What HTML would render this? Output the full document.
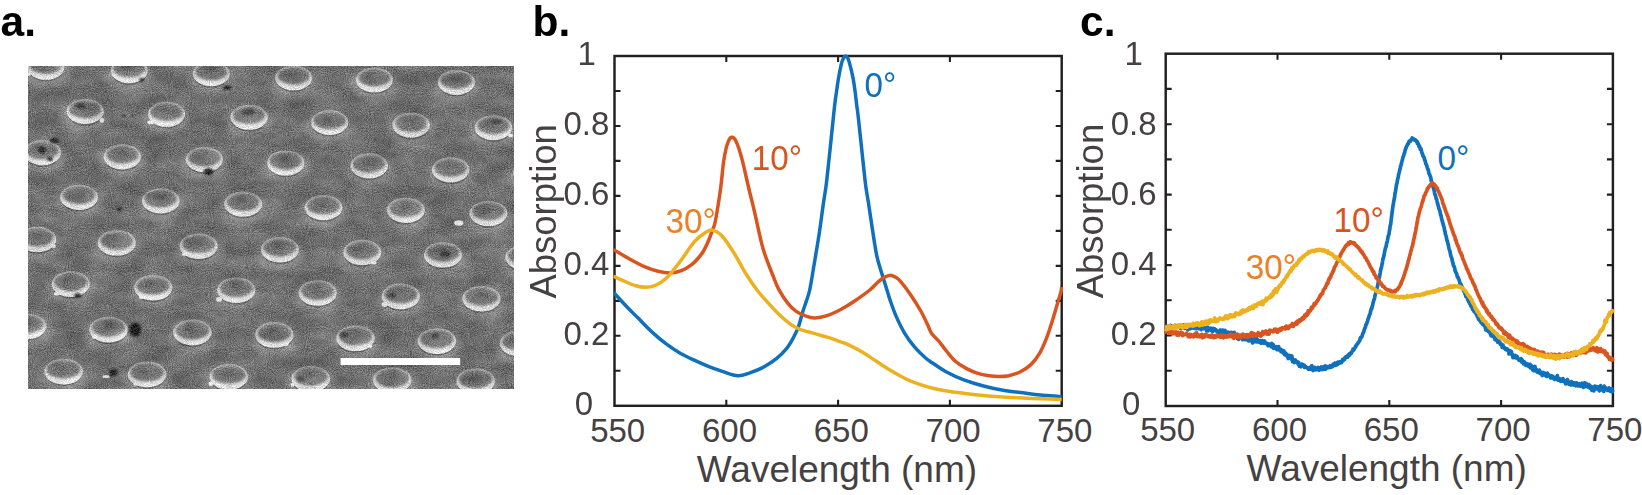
<!DOCTYPE html>
<html lang="en"><head><meta charset="utf-8"><title>Figure</title>
<style>html,body{margin:0;padding:0;background:#fff}body{width:1642px;height:495px;overflow:hidden}</style>
</head><body>
<svg width="1642" height="495" viewBox="0 0 1642 495" font-family="'Liberation Sans', Arial, Helvetica, sans-serif" style="display:block">
<rect width="1642" height="495" fill="#fff"/>
<defs><clipPath id="semclip"><rect x="28" y="66.5" width="486" height="322.5"/></clipPath><filter id="grain" x="0" y="0" width="100%" height="100%" color-interpolation-filters="sRGB"><feTurbulence type="fractalNoise" baseFrequency="0.95" numOctaves="2" seed="11" result="t"/><feColorMatrix in="t" type="matrix" values="1 0 0 0 0 1 0 0 0 0 1 0 0 0 0 0 0 0 0 1" result="g"/><feTurbulence type="fractalNoise" baseFrequency="0.035 0.07" numOctaves="3" seed="4" result="t2"/><feColorMatrix in="t2" type="matrix" values="1 0 0 0 0 1 0 0 0 0 1 0 0 0 0 0 0 0 0 1" result="g2"/><feComposite in="SourceGraphic" in2="g" operator="arithmetic" k1="0" k2="1" k3="0.46" k4="-0.23" result="s1"/><feComposite in="s1" in2="g2" operator="arithmetic" k1="0" k2="1" k3="0.19" k4="-0.095"/></filter><filter id="b0" x="-20%" y="-20%" width="140%" height="140%"><feGaussianBlur stdDeviation="0.55"/></filter><filter id="b1" x="-20%" y="-20%" width="140%" height="140%"><feGaussianBlur stdDeviation="1.0"/></filter><filter id="b8" x="-20%" y="-20%" width="140%" height="140%"><feGaussianBlur stdDeviation="0.8"/></filter><filter id="b3" x="-40%" y="-40%" width="180%" height="180%"><feGaussianBlur stdDeviation="3.2"/></filter><linearGradient id="rim" x1="0" y1="0" x2="0" y2="1"><stop offset="0" stop-color="#a8a8a8"/><stop offset="0.45" stop-color="#cacaca"/><stop offset="1" stop-color="#e6e6e6"/></linearGradient><radialGradient id="top" cx="0.45" cy="0.42" r="0.62"><stop offset="0" stop-color="#696969"/><stop offset="0.75" stop-color="#7a7a7a"/><stop offset="1" stop-color="#8e8e8e"/></radialGradient></defs>
<g clip-path="url(#semclip)"><g filter="url(#grain)">
<rect x="26" y="64.5" width="490" height="326.5" fill="#6f6f6f"/>
<ellipse cx="47.8" cy="53.0" rx="20.5" ry="6" fill="#5c5c5c" opacity="0.16" filter="url(#b3)"/>
<ellipse cx="45.8" cy="72.4" rx="23.5" ry="15.4" fill="#a0a0a0" opacity="0.5" filter="url(#b3)"/>
<ellipse cx="131.2" cy="56.4" rx="20.5" ry="6" fill="#5c5c5c" opacity="0.16" filter="url(#b3)"/>
<ellipse cx="129.2" cy="75.8" rx="23.5" ry="15.4" fill="#a0a0a0" opacity="0.5" filter="url(#b3)"/>
<ellipse cx="213.3" cy="59.4" rx="20.5" ry="6" fill="#5c5c5c" opacity="0.16" filter="url(#b3)"/>
<ellipse cx="211.3" cy="78.8" rx="23.5" ry="15.4" fill="#a0a0a0" opacity="0.5" filter="url(#b3)"/>
<ellipse cx="295.7" cy="63.6" rx="20.5" ry="6" fill="#5c5c5c" opacity="0.16" filter="url(#b3)"/>
<ellipse cx="293.7" cy="83.0" rx="23.5" ry="15.4" fill="#a0a0a0" opacity="0.5" filter="url(#b3)"/>
<ellipse cx="376.4" cy="65.6" rx="20.5" ry="6" fill="#5c5c5c" opacity="0.16" filter="url(#b3)"/>
<ellipse cx="374.4" cy="85.0" rx="23.5" ry="15.4" fill="#a0a0a0" opacity="0.5" filter="url(#b3)"/>
<ellipse cx="458.4" cy="68.1" rx="20.5" ry="6" fill="#5c5c5c" opacity="0.16" filter="url(#b3)"/>
<ellipse cx="456.4" cy="87.5" rx="23.5" ry="15.4" fill="#a0a0a0" opacity="0.5" filter="url(#b3)"/>
<ellipse cx="87.2" cy="97.0" rx="20.6" ry="6" fill="#5c5c5c" opacity="0.16" filter="url(#b3)"/>
<ellipse cx="85.2" cy="116.5" rx="23.6" ry="15.5" fill="#a0a0a0" opacity="0.5" filter="url(#b3)"/>
<ellipse cx="168.6" cy="99.8" rx="20.6" ry="6" fill="#5c5c5c" opacity="0.16" filter="url(#b3)"/>
<ellipse cx="166.6" cy="119.3" rx="23.6" ry="15.5" fill="#a0a0a0" opacity="0.5" filter="url(#b3)"/>
<ellipse cx="251.1" cy="102.8" rx="20.6" ry="6" fill="#5c5c5c" opacity="0.16" filter="url(#b3)"/>
<ellipse cx="249.1" cy="122.3" rx="23.6" ry="15.5" fill="#a0a0a0" opacity="0.5" filter="url(#b3)"/>
<ellipse cx="331.7" cy="108.0" rx="20.6" ry="6" fill="#5c5c5c" opacity="0.16" filter="url(#b3)"/>
<ellipse cx="329.7" cy="127.5" rx="23.6" ry="15.5" fill="#a0a0a0" opacity="0.5" filter="url(#b3)"/>
<ellipse cx="413.1" cy="110.7" rx="20.6" ry="6" fill="#5c5c5c" opacity="0.16" filter="url(#b3)"/>
<ellipse cx="411.1" cy="130.2" rx="23.6" ry="15.5" fill="#a0a0a0" opacity="0.5" filter="url(#b3)"/>
<ellipse cx="495.5" cy="113.2" rx="20.6" ry="6" fill="#5c5c5c" opacity="0.16" filter="url(#b3)"/>
<ellipse cx="493.5" cy="132.7" rx="23.6" ry="15.5" fill="#a0a0a0" opacity="0.5" filter="url(#b3)"/>
<ellipse cx="44.3" cy="138.1" rx="20.7" ry="6" fill="#5c5c5c" opacity="0.16" filter="url(#b3)"/>
<ellipse cx="42.3" cy="157.7" rx="23.7" ry="15.6" fill="#a0a0a0" opacity="0.5" filter="url(#b3)"/>
<ellipse cx="124.3" cy="142.2" rx="20.7" ry="6" fill="#5c5c5c" opacity="0.16" filter="url(#b3)"/>
<ellipse cx="122.3" cy="161.8" rx="23.7" ry="15.6" fill="#a0a0a0" opacity="0.5" filter="url(#b3)"/>
<ellipse cx="206.4" cy="145.0" rx="20.7" ry="6" fill="#5c5c5c" opacity="0.16" filter="url(#b3)"/>
<ellipse cx="204.4" cy="164.6" rx="23.7" ry="15.6" fill="#a0a0a0" opacity="0.5" filter="url(#b3)"/>
<ellipse cx="287.8" cy="148.4" rx="20.7" ry="6" fill="#5c5c5c" opacity="0.16" filter="url(#b3)"/>
<ellipse cx="285.8" cy="168.0" rx="23.7" ry="15.6" fill="#a0a0a0" opacity="0.5" filter="url(#b3)"/>
<ellipse cx="371.2" cy="151.2" rx="20.7" ry="6" fill="#5c5c5c" opacity="0.16" filter="url(#b3)"/>
<ellipse cx="369.2" cy="170.8" rx="23.7" ry="15.6" fill="#a0a0a0" opacity="0.5" filter="url(#b3)"/>
<ellipse cx="452.6" cy="155.3" rx="20.7" ry="6" fill="#5c5c5c" opacity="0.16" filter="url(#b3)"/>
<ellipse cx="450.6" cy="174.9" rx="23.7" ry="15.6" fill="#a0a0a0" opacity="0.5" filter="url(#b3)"/>
<ellipse cx="534.0" cy="157.9" rx="20.7" ry="6" fill="#5c5c5c" opacity="0.16" filter="url(#b3)"/>
<ellipse cx="532.0" cy="177.5" rx="23.7" ry="15.6" fill="#a0a0a0" opacity="0.5" filter="url(#b3)"/>
<ellipse cx="81.1" cy="182.8" rx="20.9" ry="6" fill="#5c5c5c" opacity="0.16" filter="url(#b3)"/>
<ellipse cx="79.1" cy="202.4" rx="23.9" ry="15.6" fill="#a0a0a0" opacity="0.5" filter="url(#b3)"/>
<ellipse cx="162.8" cy="186.2" rx="20.9" ry="6" fill="#5c5c5c" opacity="0.16" filter="url(#b3)"/>
<ellipse cx="160.8" cy="205.8" rx="23.9" ry="15.6" fill="#a0a0a0" opacity="0.5" filter="url(#b3)"/>
<ellipse cx="245.2" cy="189.6" rx="20.9" ry="6" fill="#5c5c5c" opacity="0.16" filter="url(#b3)"/>
<ellipse cx="243.2" cy="209.2" rx="23.9" ry="15.6" fill="#a0a0a0" opacity="0.5" filter="url(#b3)"/>
<ellipse cx="325.5" cy="193.1" rx="20.9" ry="6" fill="#5c5c5c" opacity="0.16" filter="url(#b3)"/>
<ellipse cx="323.5" cy="212.7" rx="23.9" ry="15.6" fill="#a0a0a0" opacity="0.5" filter="url(#b3)"/>
<ellipse cx="407.9" cy="195.8" rx="20.9" ry="6" fill="#5c5c5c" opacity="0.16" filter="url(#b3)"/>
<ellipse cx="405.9" cy="215.4" rx="23.9" ry="15.6" fill="#a0a0a0" opacity="0.5" filter="url(#b3)"/>
<ellipse cx="490.4" cy="198.9" rx="20.9" ry="6" fill="#5c5c5c" opacity="0.16" filter="url(#b3)"/>
<ellipse cx="488.4" cy="218.5" rx="23.9" ry="15.6" fill="#a0a0a0" opacity="0.5" filter="url(#b3)"/>
<ellipse cx="39.2" cy="224.7" rx="21.0" ry="6" fill="#5c5c5c" opacity="0.16" filter="url(#b3)"/>
<ellipse cx="37.2" cy="244.4" rx="24.0" ry="15.7" fill="#a0a0a0" opacity="0.5" filter="url(#b3)"/>
<ellipse cx="118.8" cy="228.2" rx="21.0" ry="6" fill="#5c5c5c" opacity="0.16" filter="url(#b3)"/>
<ellipse cx="116.8" cy="247.9" rx="24.0" ry="15.7" fill="#a0a0a0" opacity="0.5" filter="url(#b3)"/>
<ellipse cx="200.6" cy="231.6" rx="21.0" ry="6" fill="#5c5c5c" opacity="0.16" filter="url(#b3)"/>
<ellipse cx="198.6" cy="251.3" rx="24.0" ry="15.7" fill="#a0a0a0" opacity="0.5" filter="url(#b3)"/>
<ellipse cx="281.9" cy="235.0" rx="21.0" ry="6" fill="#5c5c5c" opacity="0.16" filter="url(#b3)"/>
<ellipse cx="279.9" cy="254.7" rx="24.0" ry="15.7" fill="#a0a0a0" opacity="0.5" filter="url(#b3)"/>
<ellipse cx="364.3" cy="237.8" rx="21.0" ry="6" fill="#5c5c5c" opacity="0.16" filter="url(#b3)"/>
<ellipse cx="362.3" cy="257.5" rx="24.0" ry="15.7" fill="#a0a0a0" opacity="0.5" filter="url(#b3)"/>
<ellipse cx="445.0" cy="240.2" rx="21.0" ry="6" fill="#5c5c5c" opacity="0.16" filter="url(#b3)"/>
<ellipse cx="443.0" cy="259.9" rx="24.0" ry="15.7" fill="#a0a0a0" opacity="0.5" filter="url(#b3)"/>
<ellipse cx="526.5" cy="242.9" rx="21.0" ry="6" fill="#5c5c5c" opacity="0.16" filter="url(#b3)"/>
<ellipse cx="524.5" cy="262.6" rx="24.0" ry="15.7" fill="#a0a0a0" opacity="0.5" filter="url(#b3)"/>
<ellipse cx="72.8" cy="269.3" rx="21.1" ry="6" fill="#5c5c5c" opacity="0.16" filter="url(#b3)"/>
<ellipse cx="70.8" cy="289.1" rx="24.1" ry="15.8" fill="#a0a0a0" opacity="0.5" filter="url(#b3)"/>
<ellipse cx="155.2" cy="273.0" rx="21.1" ry="6" fill="#5c5c5c" opacity="0.16" filter="url(#b3)"/>
<ellipse cx="153.2" cy="292.8" rx="24.1" ry="15.8" fill="#a0a0a0" opacity="0.5" filter="url(#b3)"/>
<ellipse cx="238.3" cy="275.4" rx="21.1" ry="6" fill="#5c5c5c" opacity="0.16" filter="url(#b3)"/>
<ellipse cx="236.3" cy="295.2" rx="24.1" ry="15.8" fill="#a0a0a0" opacity="0.5" filter="url(#b3)"/>
<ellipse cx="319.7" cy="278.2" rx="21.1" ry="6" fill="#5c5c5c" opacity="0.16" filter="url(#b3)"/>
<ellipse cx="317.7" cy="298.0" rx="24.1" ry="15.8" fill="#a0a0a0" opacity="0.5" filter="url(#b3)"/>
<ellipse cx="402.8" cy="281.6" rx="21.1" ry="6" fill="#5c5c5c" opacity="0.16" filter="url(#b3)"/>
<ellipse cx="400.8" cy="301.4" rx="24.1" ry="15.8" fill="#a0a0a0" opacity="0.5" filter="url(#b3)"/>
<ellipse cx="483.5" cy="284.0" rx="21.1" ry="6" fill="#5c5c5c" opacity="0.16" filter="url(#b3)"/>
<ellipse cx="481.5" cy="303.8" rx="24.1" ry="15.8" fill="#a0a0a0" opacity="0.5" filter="url(#b3)"/>
<ellipse cx="29.0" cy="311.4" rx="21.2" ry="6" fill="#5c5c5c" opacity="0.16" filter="url(#b3)"/>
<ellipse cx="27.0" cy="331.3" rx="24.2" ry="15.9" fill="#a0a0a0" opacity="0.5" filter="url(#b3)"/>
<ellipse cx="110.6" cy="314.8" rx="21.2" ry="6" fill="#5c5c5c" opacity="0.16" filter="url(#b3)"/>
<ellipse cx="108.6" cy="334.7" rx="24.2" ry="15.9" fill="#a0a0a0" opacity="0.5" filter="url(#b3)"/>
<ellipse cx="194.4" cy="317.6" rx="21.2" ry="6" fill="#5c5c5c" opacity="0.16" filter="url(#b3)"/>
<ellipse cx="192.4" cy="337.5" rx="24.2" ry="15.9" fill="#a0a0a0" opacity="0.5" filter="url(#b3)"/>
<ellipse cx="276.4" cy="320.0" rx="21.2" ry="6" fill="#5c5c5c" opacity="0.16" filter="url(#b3)"/>
<ellipse cx="274.4" cy="339.9" rx="24.2" ry="15.9" fill="#a0a0a0" opacity="0.5" filter="url(#b3)"/>
<ellipse cx="357.5" cy="323.4" rx="21.2" ry="6" fill="#5c5c5c" opacity="0.16" filter="url(#b3)"/>
<ellipse cx="355.5" cy="343.3" rx="24.2" ry="15.9" fill="#a0a0a0" opacity="0.5" filter="url(#b3)"/>
<ellipse cx="438.9" cy="326.2" rx="21.2" ry="6" fill="#5c5c5c" opacity="0.16" filter="url(#b3)"/>
<ellipse cx="436.9" cy="346.1" rx="24.2" ry="15.9" fill="#a0a0a0" opacity="0.5" filter="url(#b3)"/>
<ellipse cx="521.0" cy="328.6" rx="21.2" ry="6" fill="#5c5c5c" opacity="0.16" filter="url(#b3)"/>
<ellipse cx="519.0" cy="348.5" rx="24.2" ry="15.9" fill="#a0a0a0" opacity="0.5" filter="url(#b3)"/>
<ellipse cx="65.6" cy="356.7" rx="21.3" ry="6" fill="#5c5c5c" opacity="0.16" filter="url(#b3)"/>
<ellipse cx="63.6" cy="376.6" rx="24.3" ry="15.9" fill="#a0a0a0" opacity="0.5" filter="url(#b3)"/>
<ellipse cx="149.1" cy="359.5" rx="21.3" ry="6" fill="#5c5c5c" opacity="0.16" filter="url(#b3)"/>
<ellipse cx="147.1" cy="379.4" rx="24.3" ry="15.9" fill="#a0a0a0" opacity="0.5" filter="url(#b3)"/>
<ellipse cx="230.8" cy="361.9" rx="21.3" ry="6" fill="#5c5c5c" opacity="0.16" filter="url(#b3)"/>
<ellipse cx="228.8" cy="381.8" rx="24.3" ry="15.9" fill="#a0a0a0" opacity="0.5" filter="url(#b3)"/>
<ellipse cx="312.8" cy="363.9" rx="21.3" ry="6" fill="#5c5c5c" opacity="0.16" filter="url(#b3)"/>
<ellipse cx="310.8" cy="383.8" rx="24.3" ry="15.9" fill="#a0a0a0" opacity="0.5" filter="url(#b3)"/>
<ellipse cx="394.2" cy="365.3" rx="21.3" ry="6" fill="#5c5c5c" opacity="0.16" filter="url(#b3)"/>
<ellipse cx="392.2" cy="385.2" rx="24.3" ry="15.9" fill="#a0a0a0" opacity="0.5" filter="url(#b3)"/>
<ellipse cx="477.7" cy="366.4" rx="21.3" ry="6" fill="#5c5c5c" opacity="0.16" filter="url(#b3)"/>
<ellipse cx="475.7" cy="386.3" rx="24.3" ry="15.9" fill="#a0a0a0" opacity="0.5" filter="url(#b3)"/>
<ellipse cx="45.8" cy="69.0" rx="18.0" ry="12.4" fill="#4a4a4a" opacity="0.55" filter="url(#b0)"/>
<ellipse cx="45.8" cy="67.4" rx="18.5" ry="12.4" fill="url(#rim)" filter="url(#b0)"/>
<ellipse cx="45.8" cy="65.3" rx="15.9" ry="8.8" fill="url(#top)" filter="url(#b8)"/>
<ellipse cx="42.4" cy="62.0" rx="6.6" ry="2.1" fill="#505050" opacity="0.34" filter="url(#b1)"/>
<ellipse cx="28.9" cy="73.9" rx="2.1" ry="1.9" fill="#e4e4e4" filter="url(#b0)"/>
<ellipse cx="129.2" cy="72.4" rx="18.0" ry="12.4" fill="#4a4a4a" opacity="0.55" filter="url(#b0)"/>
<ellipse cx="129.2" cy="70.8" rx="18.5" ry="12.4" fill="url(#rim)" filter="url(#b0)"/>
<ellipse cx="129.2" cy="68.7" rx="15.9" ry="8.8" fill="url(#top)" filter="url(#b8)"/>
<ellipse cx="125.1" cy="67.0" rx="4.2" ry="3.1" fill="#505050" opacity="0.48" filter="url(#b1)"/>
<ellipse cx="211.3" cy="75.4" rx="18.0" ry="12.4" fill="#4a4a4a" opacity="0.55" filter="url(#b0)"/>
<ellipse cx="211.3" cy="73.8" rx="18.5" ry="12.4" fill="url(#rim)" filter="url(#b0)"/>
<ellipse cx="211.3" cy="71.7" rx="15.9" ry="8.8" fill="url(#top)" filter="url(#b8)"/>
<ellipse cx="210.0" cy="68.0" rx="6.3" ry="2.1" fill="#505050" opacity="0.23" filter="url(#b1)"/>
<ellipse cx="293.7" cy="79.6" rx="18.0" ry="12.4" fill="#4a4a4a" opacity="0.55" filter="url(#b0)"/>
<ellipse cx="293.7" cy="78.0" rx="18.5" ry="12.4" fill="url(#rim)" filter="url(#b0)"/>
<ellipse cx="293.7" cy="75.9" rx="15.9" ry="8.8" fill="url(#top)" filter="url(#b8)"/>
<ellipse cx="288.8" cy="73.7" rx="6.2" ry="3.1" fill="#505050" opacity="0.35" filter="url(#b1)"/>
<ellipse cx="374.4" cy="81.6" rx="18.0" ry="12.4" fill="#4a4a4a" opacity="0.55" filter="url(#b0)"/>
<ellipse cx="374.4" cy="80.0" rx="18.5" ry="12.4" fill="url(#rim)" filter="url(#b0)"/>
<ellipse cx="374.4" cy="77.9" rx="15.9" ry="8.8" fill="url(#top)" filter="url(#b8)"/>
<ellipse cx="369.2" cy="76.3" rx="4.8" ry="2.2" fill="#505050" opacity="0.40" filter="url(#b1)"/>
<ellipse cx="456.4" cy="84.1" rx="18.0" ry="12.4" fill="#4a4a4a" opacity="0.55" filter="url(#b0)"/>
<ellipse cx="456.4" cy="82.5" rx="18.5" ry="12.4" fill="url(#rim)" filter="url(#b0)"/>
<ellipse cx="456.4" cy="80.4" rx="15.9" ry="8.8" fill="url(#top)" filter="url(#b8)"/>
<ellipse cx="455.4" cy="78.5" rx="6.1" ry="3.6" fill="#505050" opacity="0.31" filter="url(#b1)"/>
<ellipse cx="85.2" cy="113.1" rx="18.1" ry="12.5" fill="#4a4a4a" opacity="0.55" filter="url(#b0)"/>
<ellipse cx="85.2" cy="111.5" rx="18.6" ry="12.5" fill="url(#rim)" filter="url(#b0)"/>
<ellipse cx="85.2" cy="109.4" rx="16.0" ry="8.9" fill="url(#top)" filter="url(#b8)"/>
<ellipse cx="82.1" cy="106.5" rx="4.7" ry="3.6" fill="#505050" opacity="0.18" filter="url(#b1)"/>
<ellipse cx="102.0" cy="120.3" rx="2.4" ry="2.5" fill="#e4e4e4" filter="url(#b0)"/>
<ellipse cx="166.6" cy="115.9" rx="18.1" ry="12.5" fill="#4a4a4a" opacity="0.55" filter="url(#b0)"/>
<ellipse cx="166.6" cy="114.3" rx="18.6" ry="12.5" fill="url(#rim)" filter="url(#b0)"/>
<ellipse cx="166.6" cy="112.2" rx="16.0" ry="8.9" fill="url(#top)" filter="url(#b8)"/>
<ellipse cx="161.5" cy="110.0" rx="7.0" ry="2.3" fill="#505050" opacity="0.32" filter="url(#b1)"/>
<ellipse cx="150.7" cy="122.4" rx="3.3" ry="1.8" fill="#e4e4e4" filter="url(#b0)"/>
<ellipse cx="249.1" cy="118.9" rx="18.1" ry="12.5" fill="#4a4a4a" opacity="0.55" filter="url(#b0)"/>
<ellipse cx="249.1" cy="117.3" rx="18.6" ry="12.5" fill="url(#rim)" filter="url(#b0)"/>
<ellipse cx="249.1" cy="115.2" rx="16.0" ry="8.9" fill="url(#top)" filter="url(#b8)"/>
<ellipse cx="248.7" cy="113.7" rx="6.3" ry="2.9" fill="#505050" opacity="0.44" filter="url(#b1)"/>
<ellipse cx="329.7" cy="124.1" rx="18.1" ry="12.5" fill="#4a4a4a" opacity="0.55" filter="url(#b0)"/>
<ellipse cx="329.7" cy="122.5" rx="18.6" ry="12.5" fill="url(#rim)" filter="url(#b0)"/>
<ellipse cx="329.7" cy="120.4" rx="16.0" ry="8.9" fill="url(#top)" filter="url(#b8)"/>
<ellipse cx="327.5" cy="119.2" rx="4.2" ry="3.4" fill="#505050" opacity="0.38" filter="url(#b1)"/>
<ellipse cx="411.1" cy="126.8" rx="18.1" ry="12.5" fill="#4a4a4a" opacity="0.55" filter="url(#b0)"/>
<ellipse cx="411.1" cy="125.2" rx="18.6" ry="12.5" fill="url(#rim)" filter="url(#b0)"/>
<ellipse cx="411.1" cy="123.1" rx="16.0" ry="8.9" fill="url(#top)" filter="url(#b8)"/>
<ellipse cx="411.7" cy="120.3" rx="5.5" ry="3.3" fill="#505050" opacity="0.16" filter="url(#b1)"/>
<ellipse cx="493.5" cy="129.3" rx="18.1" ry="12.5" fill="#4a4a4a" opacity="0.55" filter="url(#b0)"/>
<ellipse cx="493.5" cy="127.7" rx="18.6" ry="12.5" fill="url(#rim)" filter="url(#b0)"/>
<ellipse cx="493.5" cy="125.6" rx="16.0" ry="8.9" fill="url(#top)" filter="url(#b8)"/>
<ellipse cx="488.8" cy="122.2" rx="4.2" ry="3.5" fill="#505050" opacity="0.20" filter="url(#b1)"/>
<ellipse cx="510.6" cy="135.5" rx="2.2" ry="1.9" fill="#e4e4e4" filter="url(#b0)"/>
<ellipse cx="42.3" cy="154.3" rx="18.2" ry="12.6" fill="#4a4a4a" opacity="0.55" filter="url(#b0)"/>
<ellipse cx="42.3" cy="152.7" rx="18.7" ry="12.6" fill="url(#rim)" filter="url(#b0)"/>
<ellipse cx="42.3" cy="150.6" rx="16.1" ry="9.0" fill="url(#top)" filter="url(#b8)"/>
<ellipse cx="38.5" cy="147.2" rx="5.7" ry="3.1" fill="#505050" opacity="0.40" filter="url(#b1)"/>
<ellipse cx="122.3" cy="158.4" rx="18.2" ry="12.6" fill="#4a4a4a" opacity="0.55" filter="url(#b0)"/>
<ellipse cx="122.3" cy="156.8" rx="18.7" ry="12.6" fill="url(#rim)" filter="url(#b0)"/>
<ellipse cx="122.3" cy="154.7" rx="16.1" ry="9.0" fill="url(#top)" filter="url(#b8)"/>
<ellipse cx="121.8" cy="152.3" rx="4.9" ry="2.2" fill="#505050" opacity="0.20" filter="url(#b1)"/>
<ellipse cx="204.4" cy="161.2" rx="18.2" ry="12.6" fill="#4a4a4a" opacity="0.55" filter="url(#b0)"/>
<ellipse cx="204.4" cy="159.6" rx="18.7" ry="12.6" fill="url(#rim)" filter="url(#b0)"/>
<ellipse cx="204.4" cy="157.5" rx="16.1" ry="9.0" fill="url(#top)" filter="url(#b8)"/>
<ellipse cx="198.5" cy="156.9" rx="4.7" ry="2.6" fill="#505050" opacity="0.20" filter="url(#b1)"/>
<ellipse cx="285.8" cy="164.6" rx="18.2" ry="12.6" fill="#4a4a4a" opacity="0.55" filter="url(#b0)"/>
<ellipse cx="285.8" cy="163.0" rx="18.7" ry="12.6" fill="url(#rim)" filter="url(#b0)"/>
<ellipse cx="285.8" cy="160.9" rx="16.1" ry="9.0" fill="url(#top)" filter="url(#b8)"/>
<ellipse cx="284.7" cy="158.3" rx="4.5" ry="3.7" fill="#505050" opacity="0.48" filter="url(#b1)"/>
<ellipse cx="369.2" cy="167.4" rx="18.2" ry="12.6" fill="#4a4a4a" opacity="0.55" filter="url(#b0)"/>
<ellipse cx="369.2" cy="165.8" rx="18.7" ry="12.6" fill="url(#rim)" filter="url(#b0)"/>
<ellipse cx="369.2" cy="163.7" rx="16.1" ry="9.0" fill="url(#top)" filter="url(#b8)"/>
<ellipse cx="369.1" cy="161.6" rx="7.5" ry="3.9" fill="#505050" opacity="0.39" filter="url(#b1)"/>
<ellipse cx="450.6" cy="171.5" rx="18.2" ry="12.6" fill="#4a4a4a" opacity="0.55" filter="url(#b0)"/>
<ellipse cx="450.6" cy="169.9" rx="18.7" ry="12.6" fill="url(#rim)" filter="url(#b0)"/>
<ellipse cx="450.6" cy="167.8" rx="16.1" ry="9.0" fill="url(#top)" filter="url(#b8)"/>
<ellipse cx="447.8" cy="165.5" rx="5.9" ry="2.8" fill="#505050" opacity="0.22" filter="url(#b1)"/>
<ellipse cx="532.0" cy="174.1" rx="18.2" ry="12.6" fill="#4a4a4a" opacity="0.55" filter="url(#b0)"/>
<ellipse cx="532.0" cy="172.5" rx="18.7" ry="12.6" fill="url(#rim)" filter="url(#b0)"/>
<ellipse cx="532.0" cy="170.4" rx="16.1" ry="9.0" fill="url(#top)" filter="url(#b8)"/>
<ellipse cx="529.5" cy="166.9" rx="6.4" ry="2.2" fill="#505050" opacity="0.35" filter="url(#b1)"/>
<ellipse cx="79.1" cy="199.0" rx="18.4" ry="12.6" fill="#4a4a4a" opacity="0.55" filter="url(#b0)"/>
<ellipse cx="79.1" cy="197.4" rx="18.9" ry="12.6" fill="url(#rim)" filter="url(#b0)"/>
<ellipse cx="79.1" cy="195.3" rx="16.3" ry="9.0" fill="url(#top)" filter="url(#b8)"/>
<ellipse cx="80.7" cy="193.9" rx="4.3" ry="2.4" fill="#505050" opacity="0.28" filter="url(#b1)"/>
<ellipse cx="160.8" cy="202.4" rx="18.4" ry="12.6" fill="#4a4a4a" opacity="0.55" filter="url(#b0)"/>
<ellipse cx="160.8" cy="200.8" rx="18.9" ry="12.6" fill="url(#rim)" filter="url(#b0)"/>
<ellipse cx="160.8" cy="198.7" rx="16.3" ry="9.0" fill="url(#top)" filter="url(#b8)"/>
<ellipse cx="162.4" cy="197.2" rx="5.9" ry="2.2" fill="#505050" opacity="0.32" filter="url(#b1)"/>
<ellipse cx="243.2" cy="205.8" rx="18.4" ry="12.6" fill="#4a4a4a" opacity="0.55" filter="url(#b0)"/>
<ellipse cx="243.2" cy="204.2" rx="18.9" ry="12.6" fill="url(#rim)" filter="url(#b0)"/>
<ellipse cx="243.2" cy="202.1" rx="16.3" ry="9.0" fill="url(#top)" filter="url(#b8)"/>
<ellipse cx="241.0" cy="199.4" rx="4.6" ry="3.5" fill="#505050" opacity="0.41" filter="url(#b1)"/>
<ellipse cx="323.5" cy="209.3" rx="18.4" ry="12.6" fill="#4a4a4a" opacity="0.55" filter="url(#b0)"/>
<ellipse cx="323.5" cy="207.7" rx="18.9" ry="12.6" fill="url(#rim)" filter="url(#b0)"/>
<ellipse cx="323.5" cy="205.6" rx="16.3" ry="9.0" fill="url(#top)" filter="url(#b8)"/>
<ellipse cx="323.0" cy="203.8" rx="4.8" ry="3.9" fill="#505050" opacity="0.28" filter="url(#b1)"/>
<ellipse cx="405.9" cy="212.0" rx="18.4" ry="12.6" fill="#4a4a4a" opacity="0.55" filter="url(#b0)"/>
<ellipse cx="405.9" cy="210.4" rx="18.9" ry="12.6" fill="url(#rim)" filter="url(#b0)"/>
<ellipse cx="405.9" cy="208.3" rx="16.3" ry="9.0" fill="url(#top)" filter="url(#b8)"/>
<ellipse cx="407.2" cy="207.4" rx="5.2" ry="3.3" fill="#505050" opacity="0.18" filter="url(#b1)"/>
<ellipse cx="488.4" cy="215.1" rx="18.4" ry="12.6" fill="#4a4a4a" opacity="0.55" filter="url(#b0)"/>
<ellipse cx="488.4" cy="213.5" rx="18.9" ry="12.6" fill="url(#rim)" filter="url(#b0)"/>
<ellipse cx="488.4" cy="211.4" rx="16.3" ry="9.0" fill="url(#top)" filter="url(#b8)"/>
<ellipse cx="486.5" cy="211.1" rx="5.4" ry="2.4" fill="#505050" opacity="0.34" filter="url(#b1)"/>
<ellipse cx="37.2" cy="241.0" rx="18.5" ry="12.7" fill="#4a4a4a" opacity="0.55" filter="url(#b0)"/>
<ellipse cx="37.2" cy="239.4" rx="19.0" ry="12.7" fill="url(#rim)" filter="url(#b0)"/>
<ellipse cx="37.2" cy="237.3" rx="16.4" ry="9.1" fill="url(#top)" filter="url(#b8)"/>
<ellipse cx="36.3" cy="235.9" rx="7.2" ry="3.5" fill="#505050" opacity="0.22" filter="url(#b1)"/>
<ellipse cx="53.2" cy="246.1" rx="2.8" ry="1.9" fill="#e4e4e4" filter="url(#b0)"/>
<ellipse cx="116.8" cy="244.5" rx="18.5" ry="12.7" fill="#4a4a4a" opacity="0.55" filter="url(#b0)"/>
<ellipse cx="116.8" cy="242.9" rx="19.0" ry="12.7" fill="url(#rim)" filter="url(#b0)"/>
<ellipse cx="116.8" cy="240.8" rx="16.4" ry="9.1" fill="url(#top)" filter="url(#b8)"/>
<ellipse cx="111.0" cy="237.0" rx="5.1" ry="2.5" fill="#505050" opacity="0.39" filter="url(#b1)"/>
<ellipse cx="198.6" cy="247.9" rx="18.5" ry="12.7" fill="#4a4a4a" opacity="0.55" filter="url(#b0)"/>
<ellipse cx="198.6" cy="246.3" rx="19.0" ry="12.7" fill="url(#rim)" filter="url(#b0)"/>
<ellipse cx="198.6" cy="244.2" rx="16.4" ry="9.1" fill="url(#top)" filter="url(#b8)"/>
<ellipse cx="196.2" cy="244.0" rx="8.0" ry="3.9" fill="#505050" opacity="0.28" filter="url(#b1)"/>
<ellipse cx="184.6" cy="253.5" rx="2.7" ry="2.5" fill="#e4e4e4" filter="url(#b0)"/>
<ellipse cx="279.9" cy="251.3" rx="18.5" ry="12.7" fill="#4a4a4a" opacity="0.55" filter="url(#b0)"/>
<ellipse cx="279.9" cy="249.7" rx="19.0" ry="12.7" fill="url(#rim)" filter="url(#b0)"/>
<ellipse cx="279.9" cy="247.6" rx="16.4" ry="9.1" fill="url(#top)" filter="url(#b8)"/>
<ellipse cx="278.8" cy="243.7" rx="7.6" ry="2.7" fill="#505050" opacity="0.38" filter="url(#b1)"/>
<ellipse cx="362.3" cy="254.1" rx="18.5" ry="12.7" fill="#4a4a4a" opacity="0.55" filter="url(#b0)"/>
<ellipse cx="362.3" cy="252.5" rx="19.0" ry="12.7" fill="url(#rim)" filter="url(#b0)"/>
<ellipse cx="362.3" cy="250.4" rx="16.4" ry="9.1" fill="url(#top)" filter="url(#b8)"/>
<ellipse cx="357.3" cy="248.1" rx="6.8" ry="2.4" fill="#505050" opacity="0.46" filter="url(#b1)"/>
<ellipse cx="373.4" cy="262.4" rx="3.1" ry="2.0" fill="#e4e4e4" filter="url(#b0)"/>
<ellipse cx="443.0" cy="256.5" rx="18.5" ry="12.7" fill="#4a4a4a" opacity="0.55" filter="url(#b0)"/>
<ellipse cx="443.0" cy="254.9" rx="19.0" ry="12.7" fill="url(#rim)" filter="url(#b0)"/>
<ellipse cx="443.0" cy="252.8" rx="16.4" ry="9.1" fill="url(#top)" filter="url(#b8)"/>
<ellipse cx="442.9" cy="249.2" rx="4.6" ry="4.0" fill="#505050" opacity="0.16" filter="url(#b1)"/>
<ellipse cx="524.5" cy="259.2" rx="18.5" ry="12.7" fill="#4a4a4a" opacity="0.55" filter="url(#b0)"/>
<ellipse cx="524.5" cy="257.6" rx="19.0" ry="12.7" fill="url(#rim)" filter="url(#b0)"/>
<ellipse cx="524.5" cy="255.5" rx="16.4" ry="9.1" fill="url(#top)" filter="url(#b8)"/>
<ellipse cx="522.2" cy="254.2" rx="6.4" ry="3.2" fill="#505050" opacity="0.32" filter="url(#b1)"/>
<ellipse cx="70.8" cy="285.7" rx="18.6" ry="12.8" fill="#4a4a4a" opacity="0.55" filter="url(#b0)"/>
<ellipse cx="70.8" cy="284.1" rx="19.1" ry="12.8" fill="url(#rim)" filter="url(#b0)"/>
<ellipse cx="70.8" cy="282.0" rx="16.5" ry="9.2" fill="url(#top)" filter="url(#b8)"/>
<ellipse cx="66.0" cy="280.3" rx="4.1" ry="3.6" fill="#505050" opacity="0.40" filter="url(#b1)"/>
<ellipse cx="57.0" cy="293.8" rx="3.2" ry="1.7" fill="#e4e4e4" filter="url(#b0)"/>
<ellipse cx="153.2" cy="289.4" rx="18.6" ry="12.8" fill="#4a4a4a" opacity="0.55" filter="url(#b0)"/>
<ellipse cx="153.2" cy="287.8" rx="19.1" ry="12.8" fill="url(#rim)" filter="url(#b0)"/>
<ellipse cx="153.2" cy="285.7" rx="16.5" ry="9.2" fill="url(#top)" filter="url(#b8)"/>
<ellipse cx="149.2" cy="283.0" rx="5.0" ry="3.2" fill="#505050" opacity="0.24" filter="url(#b1)"/>
<ellipse cx="142.2" cy="296.9" rx="3.3" ry="2.2" fill="#e4e4e4" filter="url(#b0)"/>
<ellipse cx="236.3" cy="291.8" rx="18.6" ry="12.8" fill="#4a4a4a" opacity="0.55" filter="url(#b0)"/>
<ellipse cx="236.3" cy="290.2" rx="19.1" ry="12.8" fill="url(#rim)" filter="url(#b0)"/>
<ellipse cx="236.3" cy="288.1" rx="16.5" ry="9.2" fill="url(#top)" filter="url(#b8)"/>
<ellipse cx="236.8" cy="286.3" rx="7.3" ry="3.8" fill="#505050" opacity="0.20" filter="url(#b1)"/>
<ellipse cx="219.1" cy="299.4" rx="2.9" ry="2.3" fill="#e4e4e4" filter="url(#b0)"/>
<ellipse cx="317.7" cy="294.6" rx="18.6" ry="12.8" fill="#4a4a4a" opacity="0.55" filter="url(#b0)"/>
<ellipse cx="317.7" cy="293.0" rx="19.1" ry="12.8" fill="url(#rim)" filter="url(#b0)"/>
<ellipse cx="317.7" cy="290.9" rx="16.5" ry="9.2" fill="url(#top)" filter="url(#b8)"/>
<ellipse cx="312.9" cy="287.6" rx="6.5" ry="2.2" fill="#505050" opacity="0.17" filter="url(#b1)"/>
<ellipse cx="400.8" cy="298.0" rx="18.6" ry="12.8" fill="#4a4a4a" opacity="0.55" filter="url(#b0)"/>
<ellipse cx="400.8" cy="296.4" rx="19.1" ry="12.8" fill="url(#rim)" filter="url(#b0)"/>
<ellipse cx="400.8" cy="294.3" rx="16.5" ry="9.2" fill="url(#top)" filter="url(#b8)"/>
<ellipse cx="399.0" cy="292.3" rx="7.1" ry="3.8" fill="#505050" opacity="0.17" filter="url(#b1)"/>
<ellipse cx="384.4" cy="304.4" rx="2.8" ry="2.3" fill="#e4e4e4" filter="url(#b0)"/>
<ellipse cx="481.5" cy="300.4" rx="18.6" ry="12.8" fill="#4a4a4a" opacity="0.55" filter="url(#b0)"/>
<ellipse cx="481.5" cy="298.8" rx="19.1" ry="12.8" fill="url(#rim)" filter="url(#b0)"/>
<ellipse cx="481.5" cy="296.7" rx="16.5" ry="9.2" fill="url(#top)" filter="url(#b8)"/>
<ellipse cx="482.8" cy="294.6" rx="6.5" ry="3.0" fill="#505050" opacity="0.33" filter="url(#b1)"/>
<ellipse cx="27.0" cy="327.9" rx="18.7" ry="12.9" fill="#4a4a4a" opacity="0.55" filter="url(#b0)"/>
<ellipse cx="27.0" cy="326.3" rx="19.2" ry="12.9" fill="url(#rim)" filter="url(#b0)"/>
<ellipse cx="27.0" cy="324.2" rx="16.6" ry="9.3" fill="url(#top)" filter="url(#b8)"/>
<ellipse cx="24.6" cy="322.4" rx="5.9" ry="3.9" fill="#505050" opacity="0.39" filter="url(#b1)"/>
<ellipse cx="108.6" cy="331.3" rx="18.7" ry="12.9" fill="#4a4a4a" opacity="0.55" filter="url(#b0)"/>
<ellipse cx="108.6" cy="329.7" rx="19.2" ry="12.9" fill="url(#rim)" filter="url(#b0)"/>
<ellipse cx="108.6" cy="327.6" rx="16.6" ry="9.3" fill="url(#top)" filter="url(#b8)"/>
<ellipse cx="110.1" cy="324.7" rx="6.2" ry="3.9" fill="#505050" opacity="0.44" filter="url(#b1)"/>
<ellipse cx="95.0" cy="336.9" rx="3.0" ry="1.9" fill="#e4e4e4" filter="url(#b0)"/>
<ellipse cx="192.4" cy="334.1" rx="18.7" ry="12.9" fill="#4a4a4a" opacity="0.55" filter="url(#b0)"/>
<ellipse cx="192.4" cy="332.5" rx="19.2" ry="12.9" fill="url(#rim)" filter="url(#b0)"/>
<ellipse cx="192.4" cy="330.4" rx="16.6" ry="9.3" fill="url(#top)" filter="url(#b8)"/>
<ellipse cx="188.1" cy="327.7" rx="4.5" ry="3.6" fill="#505050" opacity="0.48" filter="url(#b1)"/>
<ellipse cx="274.4" cy="336.5" rx="18.7" ry="12.9" fill="#4a4a4a" opacity="0.55" filter="url(#b0)"/>
<ellipse cx="274.4" cy="334.9" rx="19.2" ry="12.9" fill="url(#rim)" filter="url(#b0)"/>
<ellipse cx="274.4" cy="332.8" rx="16.6" ry="9.3" fill="url(#top)" filter="url(#b8)"/>
<ellipse cx="271.3" cy="329.9" rx="4.5" ry="2.9" fill="#505050" opacity="0.41" filter="url(#b1)"/>
<ellipse cx="286.2" cy="343.7" rx="2.3" ry="2.2" fill="#e4e4e4" filter="url(#b0)"/>
<ellipse cx="355.5" cy="339.9" rx="18.7" ry="12.9" fill="#4a4a4a" opacity="0.55" filter="url(#b0)"/>
<ellipse cx="355.5" cy="338.3" rx="19.2" ry="12.9" fill="url(#rim)" filter="url(#b0)"/>
<ellipse cx="355.5" cy="336.2" rx="16.6" ry="9.3" fill="url(#top)" filter="url(#b8)"/>
<ellipse cx="357.5" cy="333.9" rx="5.7" ry="2.7" fill="#505050" opacity="0.18" filter="url(#b1)"/>
<ellipse cx="370.3" cy="346.1" rx="2.0" ry="1.8" fill="#e4e4e4" filter="url(#b0)"/>
<ellipse cx="436.9" cy="342.7" rx="18.7" ry="12.9" fill="#4a4a4a" opacity="0.55" filter="url(#b0)"/>
<ellipse cx="436.9" cy="341.1" rx="19.2" ry="12.9" fill="url(#rim)" filter="url(#b0)"/>
<ellipse cx="436.9" cy="339.0" rx="16.6" ry="9.3" fill="url(#top)" filter="url(#b8)"/>
<ellipse cx="435.9" cy="337.1" rx="4.3" ry="4.0" fill="#505050" opacity="0.43" filter="url(#b1)"/>
<ellipse cx="519.0" cy="345.1" rx="18.7" ry="12.9" fill="#4a4a4a" opacity="0.55" filter="url(#b0)"/>
<ellipse cx="519.0" cy="343.5" rx="19.2" ry="12.9" fill="url(#rim)" filter="url(#b0)"/>
<ellipse cx="519.0" cy="341.4" rx="16.6" ry="9.3" fill="url(#top)" filter="url(#b8)"/>
<ellipse cx="513.8" cy="338.6" rx="4.2" ry="3.6" fill="#505050" opacity="0.24" filter="url(#b1)"/>
<ellipse cx="536.1" cy="352.3" rx="3.4" ry="1.9" fill="#e4e4e4" filter="url(#b0)"/>
<ellipse cx="63.6" cy="373.2" rx="18.8" ry="12.9" fill="#4a4a4a" opacity="0.55" filter="url(#b0)"/>
<ellipse cx="63.6" cy="371.6" rx="19.3" ry="12.9" fill="url(#rim)" filter="url(#b0)"/>
<ellipse cx="63.6" cy="369.5" rx="16.7" ry="9.3" fill="url(#top)" filter="url(#b8)"/>
<ellipse cx="61.9" cy="367.7" rx="6.0" ry="2.7" fill="#505050" opacity="0.25" filter="url(#b1)"/>
<ellipse cx="147.1" cy="376.0" rx="18.8" ry="12.9" fill="#4a4a4a" opacity="0.55" filter="url(#b0)"/>
<ellipse cx="147.1" cy="374.4" rx="19.3" ry="12.9" fill="url(#rim)" filter="url(#b0)"/>
<ellipse cx="147.1" cy="372.3" rx="16.7" ry="9.3" fill="url(#top)" filter="url(#b8)"/>
<ellipse cx="142.6" cy="372.0" rx="5.1" ry="2.0" fill="#505050" opacity="0.18" filter="url(#b1)"/>
<ellipse cx="136.0" cy="384.1" rx="2.7" ry="1.8" fill="#e4e4e4" filter="url(#b0)"/>
<ellipse cx="228.8" cy="378.4" rx="18.8" ry="12.9" fill="#4a4a4a" opacity="0.55" filter="url(#b0)"/>
<ellipse cx="228.8" cy="376.8" rx="19.3" ry="12.9" fill="url(#rim)" filter="url(#b0)"/>
<ellipse cx="228.8" cy="374.7" rx="16.7" ry="9.3" fill="url(#top)" filter="url(#b8)"/>
<ellipse cx="227.2" cy="374.5" rx="5.1" ry="2.3" fill="#505050" opacity="0.33" filter="url(#b1)"/>
<ellipse cx="210.7" cy="383.8" rx="2.3" ry="2.4" fill="#e4e4e4" filter="url(#b0)"/>
<ellipse cx="310.8" cy="380.4" rx="18.8" ry="12.9" fill="#4a4a4a" opacity="0.55" filter="url(#b0)"/>
<ellipse cx="310.8" cy="378.8" rx="19.3" ry="12.9" fill="url(#rim)" filter="url(#b0)"/>
<ellipse cx="310.8" cy="376.7" rx="16.7" ry="9.3" fill="url(#top)" filter="url(#b8)"/>
<ellipse cx="309.8" cy="374.9" rx="4.8" ry="2.9" fill="#505050" opacity="0.39" filter="url(#b1)"/>
<ellipse cx="292.5" cy="384.8" rx="2.0" ry="2.0" fill="#e4e4e4" filter="url(#b0)"/>
<ellipse cx="392.2" cy="381.8" rx="18.8" ry="12.9" fill="#4a4a4a" opacity="0.55" filter="url(#b0)"/>
<ellipse cx="392.2" cy="380.2" rx="19.3" ry="12.9" fill="url(#rim)" filter="url(#b0)"/>
<ellipse cx="392.2" cy="378.1" rx="16.7" ry="9.3" fill="url(#top)" filter="url(#b8)"/>
<ellipse cx="394.0" cy="376.3" rx="5.0" ry="2.9" fill="#505050" opacity="0.38" filter="url(#b1)"/>
<ellipse cx="475.7" cy="382.9" rx="18.8" ry="12.9" fill="#4a4a4a" opacity="0.55" filter="url(#b0)"/>
<ellipse cx="475.7" cy="381.3" rx="19.3" ry="12.9" fill="url(#rim)" filter="url(#b0)"/>
<ellipse cx="475.7" cy="379.2" rx="16.7" ry="9.3" fill="url(#top)" filter="url(#b8)"/>
<ellipse cx="475.0" cy="377.5" rx="7.6" ry="3.9" fill="#505050" opacity="0.26" filter="url(#b1)"/>
<ellipse cx="462.4" cy="390.9" rx="3.1" ry="2.1" fill="#e4e4e4" filter="url(#b0)"/>
<ellipse cx="458.8" cy="223" rx="4.6" ry="2.8" fill="#e8e8e8" filter="url(#b0)"/>
<ellipse cx="106" cy="376.5" rx="3.6" ry="1.6" fill="#dcdcdc" filter="url(#b0)"/>
<ellipse cx="135" cy="329.7" rx="6" ry="7" fill="#1e1e1e" opacity="0.9" filter="url(#b1)"/>
<ellipse cx="113.4" cy="372.7" rx="4.2" ry="3.8" fill="#1e1e1e" opacity="0.9" filter="url(#b1)"/>
<ellipse cx="77.7" cy="295.4" rx="3.6" ry="2.2" fill="#1e1e1e" opacity="0.9" filter="url(#b1)"/>
<ellipse cx="227.1" cy="87.7" rx="4.2" ry="2.1" fill="#1e1e1e" opacity="0.9" filter="url(#b1)"/>
<ellipse cx="54.3" cy="140.7" rx="4.5" ry="2.6" fill="#1e1e1e" opacity="0.9" filter="url(#b1)"/>
<ellipse cx="208.4" cy="171.6" rx="5" ry="3.3" fill="#1e1e1e" opacity="0.9" filter="url(#b1)"/>
<ellipse cx="119.6" cy="209.4" rx="2.5" ry="1.8" fill="#1e1e1e" opacity="0.9" filter="url(#b1)"/>
<ellipse cx="42" cy="150" rx="3.5" ry="3.5" fill="#1e1e1e" opacity="0.9" filter="url(#b1)"/>
<ellipse cx="50" cy="159" rx="3" ry="2" fill="#1e1e1e" opacity="0.9" filter="url(#b1)"/>
<ellipse cx="141.8" cy="79.6" rx="2.6" ry="1.8" fill="#1e1e1e" opacity="0.9" filter="url(#b1)"/>
<ellipse cx="123.5" cy="115.9" rx="2.2" ry="1.2" fill="#1e1e1e" opacity="0.9" filter="url(#b1)"/>
<ellipse cx="132.7" cy="116" rx="1.8" ry="1.1" fill="#1e1e1e" opacity="0.9" filter="url(#b1)"/>
<ellipse cx="445.4" cy="254.5" rx="5" ry="3" fill="#333" opacity="0.7" filter="url(#b1)"/>
<ellipse cx="344" cy="335" rx="4.5" ry="3" fill="#333" opacity="0.7" filter="url(#b1)"/>
<ellipse cx="392" cy="295" rx="4" ry="2.5" fill="#333" opacity="0.7" filter="url(#b1)"/>
<ellipse cx="497" cy="121.8" rx="5.5" ry="2" fill="#333" opacity="0.7" filter="url(#b1)"/>
<ellipse cx="248.4" cy="111.5" rx="6" ry="3" fill="#333" opacity="0.7" filter="url(#b1)"/>
<ellipse cx="80" cy="106" rx="5" ry="3" fill="#333" opacity="0.7" filter="url(#b1)"/>
<ellipse cx="301" cy="379" rx="4" ry="3" fill="#333" opacity="0.7" filter="url(#b1)"/>
<ellipse cx="435" cy="335.6" rx="3.5" ry="2.4" fill="#333" opacity="0.7" filter="url(#b1)"/>
</g></g>
<rect x="340.6" y="358" width="119.5" height="7" fill="#fff"/>
<text x="0.5" y="35.8" font-size="42.5" fill="#000" text-anchor="start" font-weight="bold" >a.</text>
<text x="532.5" y="35.8" font-size="42.5" fill="#000" text-anchor="start" font-weight="bold" >b.</text>
<text x="1080" y="35.8" font-size="42.5" fill="#000" text-anchor="start" font-weight="bold" >c.</text>
<clipPath id="cb"><rect x="613.4" y="52.0" width="449.90000000000003" height="353.8"/></clipPath>
<rect x="614.5" y="56.0" width="447.2" height="349.8" fill="none" stroke="#231f20" stroke-width="2.45"/>
<path d="M726.3 405.8v-6.0M726.3 56.0v6.0M838.1 405.8v-6.0M838.1 56.0v6.0M949.9 405.8v-6.0M949.9 56.0v6.0M614.5 370.8h6.0M1061.7 370.8h-6.0M614.5 335.8h6.0M1061.7 335.8h-6.0M614.5 300.9h6.0M1061.7 300.9h-6.0M614.5 265.9h6.0M1061.7 265.9h-6.0M614.5 230.9h6.0M1061.7 230.9h-6.0M614.5 195.9h6.0M1061.7 195.9h-6.0M614.5 160.9h6.0M1061.7 160.9h-6.0M614.5 126.0h6.0M1061.7 126.0h-6.0M614.5 91.0h6.0M1061.7 91.0h-6.0" stroke="#231f20" stroke-width="2.1" fill="none"/>
<g clip-path="url(#cb)" fill="none" stroke-width="3.5" stroke-linejoin="round" stroke-linecap="butt">
<path d="M613.5 292.4C615.7 294.8 622.7 302.5 626.8 306.8C630.9 311.1 633.9 313.9 638.1 318.1C642.3 322.3 647.4 327.8 652.1 332.1C656.8 336.4 661.5 340.4 666.2 343.9C670.9 347.4 675.5 350.5 680.2 353.2C684.9 355.9 689.5 358.0 694.2 360.2C698.9 362.4 703.6 364.5 708.3 366.4C713.0 368.3 717.4 369.8 722.3 371.4C727.2 372.9 733.1 375.5 737.8 375.7C742.5 375.9 746.0 374.1 750.4 372.6C754.8 371.1 759.9 369.1 764.2 366.8C768.5 364.5 772.7 361.7 776.4 358.7C780.1 355.7 783.6 352.1 786.5 348.6C789.4 345.1 791.5 341.2 793.5 337.5C795.5 333.8 797.1 330.6 798.6 326.4C800.1 322.2 801.2 316.6 802.6 312.2C804.0 307.8 805.5 303.8 806.7 300.1C807.9 296.4 808.5 295.5 809.7 290.0C810.9 284.5 812.1 276.5 813.7 267.0C815.3 257.5 817.7 243.6 819.3 233.0C820.9 222.4 822.1 212.3 823.4 203.5C824.6 194.7 825.2 193.9 826.8 180.0C828.4 166.1 831.8 132.2 833.1 120.0C834.4 107.8 834.0 111.2 834.5 106.6C835.0 102.0 835.7 97.1 836.4 92.4C837.1 87.7 837.7 83.0 838.5 78.3C839.3 73.6 840.5 67.5 841.3 64.1C842.1 60.7 842.8 59.4 843.5 58.0C844.2 56.6 844.9 56.0 845.6 56.0C846.3 56.0 847.0 56.6 847.7 58.0C848.4 59.4 848.9 60.7 849.8 64.1C850.7 67.5 852.2 73.6 853.1 78.3C854.0 83.0 854.6 87.7 855.2 92.4C855.8 97.1 856.3 102.0 856.9 106.6C857.5 111.2 857.2 107.8 858.6 120.0C860.0 132.2 863.4 166.2 865.0 180.0C866.6 193.8 867.1 194.1 868.4 202.5C869.7 210.9 871.2 221.6 872.6 230.5C874.0 239.4 875.3 248.8 876.8 255.8C878.3 262.8 880.1 267.8 881.5 272.5C882.9 277.2 883.8 279.7 885.2 284.3C886.7 288.9 888.4 295.0 890.2 300.4C892.1 305.8 893.9 311.2 896.3 316.6C898.7 322.0 901.4 327.8 904.4 332.8C907.4 337.9 911.0 342.7 914.5 346.9C918.0 351.1 922.5 355.3 925.6 358.0C928.7 360.7 929.3 360.9 932.9 363.3C936.5 365.7 941.9 369.5 947.0 372.3C952.1 375.1 957.7 377.6 963.8 379.9C969.9 382.2 977.0 384.3 983.5 386.0C990.0 387.7 995.1 389.0 1003.1 390.3C1011.1 391.6 1021.4 392.8 1031.2 393.9C1041.0 395.0 1056.6 396.2 1061.7 396.7" stroke="#0f70bd"/>
<path d="M613.5 249.6C616.2 251.2 624.8 256.3 630.0 259.2C635.2 262.1 640.3 264.8 645.0 266.8C649.7 268.8 653.8 270.2 658.0 271.2C662.2 272.2 666.5 273.0 670.5 272.9C674.5 272.8 678.6 271.7 682.0 270.4C685.4 269.1 688.4 267.1 691.0 265.2C693.6 263.3 695.5 261.3 697.5 259.0C699.5 256.7 701.4 254.6 703.2 251.5C705.1 248.4 707.1 244.0 708.6 240.5C710.1 237.0 711.2 233.7 712.3 230.5C713.4 227.3 713.9 228.2 715.3 221.5C716.6 214.8 719.0 199.8 720.4 190.0C721.8 180.2 722.5 169.3 723.5 162.4C724.5 155.5 725.3 151.8 726.1 148.3C726.9 144.8 727.8 142.9 728.5 141.2C729.2 139.5 729.7 138.7 730.3 138.0C730.9 137.3 731.4 137.3 732.0 137.3C732.6 137.3 733.3 137.5 734.0 138.2C734.7 138.8 735.2 139.5 736.0 141.2C736.8 142.9 737.7 144.8 738.8 148.3C739.9 151.8 741.2 155.9 742.8 162.4C744.4 168.9 746.7 179.4 748.6 187.5C750.5 195.6 751.9 200.6 754.3 210.8C756.7 221.0 759.9 237.8 763.0 248.5C766.1 259.2 770.0 268.1 772.7 275.0C775.4 281.9 776.7 285.6 779.2 290.2C781.7 294.8 784.7 299.3 787.5 302.8C790.3 306.3 793.0 309.1 796.2 311.4C799.4 313.7 803.5 315.3 806.6 316.4C809.7 317.5 811.7 318.0 815.0 317.9C818.3 317.8 822.0 317.3 826.2 315.9C830.4 314.5 835.6 312.1 840.3 309.7C845.0 307.2 849.4 304.5 854.3 301.2C859.2 297.9 865.8 293.2 869.8 290.0C873.8 286.8 875.6 284.1 878.0 282.0C880.4 279.9 882.0 278.6 884.0 277.5C886.0 276.4 888.3 275.2 890.2 275.2C892.1 275.1 893.8 276.2 895.5 277.2C897.2 278.2 897.8 278.3 900.3 281.2C902.8 284.1 907.0 289.5 910.4 294.4C913.8 299.3 917.6 305.4 920.5 310.5C923.4 315.6 925.8 320.8 927.6 324.7C929.5 328.6 929.8 330.9 931.6 333.6C933.5 336.3 936.2 338.0 938.7 341.0C941.2 344.0 944.0 348.1 946.8 351.5C949.6 354.9 952.1 358.3 955.4 361.2C958.7 364.1 962.9 366.6 966.6 368.6C970.4 370.6 974.1 372.2 977.9 373.4C981.6 374.6 985.6 375.2 989.1 375.7C992.6 376.2 995.6 376.5 998.9 376.5C1002.2 376.5 1005.3 376.4 1008.8 375.7C1012.3 374.9 1016.3 373.9 1020.0 372.0C1023.7 370.1 1027.9 367.5 1031.2 364.4C1034.5 361.3 1037.1 357.6 1039.7 353.2C1042.3 348.8 1044.6 343.1 1046.7 337.7C1048.8 332.3 1050.7 326.0 1052.3 320.9C1053.9 315.8 1055.1 311.5 1056.5 306.8C1057.9 302.1 1059.8 296.1 1060.7 292.8C1061.6 289.5 1061.5 288.0 1061.7 287.0" stroke="#d9541e"/>
<path d="M613.5 276.4C615.4 277.2 621.4 280.0 625.0 281.5C628.6 283.0 631.6 284.5 635.0 285.5C638.4 286.5 641.8 287.3 645.1 287.3C648.4 287.3 651.5 287.0 655.0 285.5C658.5 284.0 662.0 282.3 666.2 278.3C670.4 274.3 675.5 267.5 680.2 261.4C684.9 255.3 690.0 246.6 694.2 241.8C698.4 237.0 702.5 234.4 705.5 232.5C708.5 230.6 709.7 229.5 712.5 230.1C715.3 230.7 718.7 232.3 722.3 236.2C725.9 240.1 730.4 247.3 734.3 253.5C738.2 259.7 741.8 267.2 745.6 273.3C749.4 279.4 753.2 285.1 757.2 290.3C761.2 295.5 765.7 300.2 769.5 304.4C773.3 308.6 776.7 312.3 780.2 315.6C783.7 318.9 787.3 322.1 790.7 324.4C794.1 326.7 796.6 328.1 800.6 329.6C804.6 331.1 810.0 332.2 814.7 333.6C819.4 335.0 824.7 336.4 828.9 337.7C833.1 339.0 836.7 340.4 840.0 341.6C843.3 342.8 844.9 343.0 848.7 344.8C852.5 346.6 858.0 349.5 862.7 352.3C867.4 355.1 872.1 358.6 876.8 361.6C881.5 364.7 886.1 367.8 890.8 370.6C895.5 373.4 900.2 376.2 904.9 378.5C909.6 380.8 914.2 382.5 918.9 384.1C923.6 385.7 928.2 387.1 932.9 388.3C937.6 389.5 940.0 390.0 947.0 391.1C954.0 392.2 965.8 393.7 975.1 394.7C984.5 395.7 993.8 396.4 1003.1 397.0C1012.5 397.6 1021.4 398.0 1031.2 398.4C1041.0 398.8 1056.6 399.3 1061.7 399.5" stroke="#edb120"/>
</g>
<rect x="1165.7" y="53.7" width="447.2" height="352.3" fill="none" stroke="#231f20" stroke-width="2.45"/>
<path d="M1277.5 406.0v-6.0M1277.5 53.7v6.0M1389.3 406.0v-6.0M1389.3 53.7v6.0M1501.1 406.0v-6.0M1501.1 53.7v6.0M1165.7 370.8h6.0M1612.9 370.8h-6.0M1165.7 335.5h6.0M1612.9 335.5h-6.0M1165.7 300.3h6.0M1612.9 300.3h-6.0M1165.7 265.1h6.0M1612.9 265.1h-6.0M1165.7 229.8h6.0M1612.9 229.8h-6.0M1165.7 194.6h6.0M1612.9 194.6h-6.0M1165.7 159.4h6.0M1612.9 159.4h-6.0M1165.7 124.2h6.0M1612.9 124.2h-6.0M1165.7 88.9h6.0M1612.9 88.9h-6.0" stroke="#231f20" stroke-width="2.1" fill="none"/>
<clipPath id="cc"><rect x="1164.6000000000001" y="53.7" width="450.50000000000006" height="352.3"/></clipPath>
<g clip-path="url(#cc)" fill="none" stroke-width="3.7" stroke-linejoin="round" stroke-linecap="round">
<path d="M1164.6 326.5L1165.0 325.9L1165.4 327.1L1165.8 327.9L1166.2 328.7L1166.6 327.5L1167.0 326.7L1167.4 326.5L1167.8 328.2L1168.2 329.2L1168.6 327.7L1169.0 325.9L1169.4 326.2L1169.8 329.2L1170.2 327.6L1170.6 325.3L1171.0 327.2L1171.4 326.0L1171.8 326.6L1172.2 326.7L1172.6 326.5L1173.0 327.9L1173.4 327.2L1173.8 326.6L1174.2 327.7L1174.6 328.2L1175.0 325.4L1175.4 326.9L1175.8 326.1L1176.2 327.0L1176.6 325.7L1177.0 327.2L1177.4 327.2L1177.8 326.9L1178.2 326.0L1178.6 326.7L1179.0 325.9L1179.4 325.6L1179.8 327.4L1180.2 325.9L1180.6 328.5L1181.0 328.0L1181.4 324.9L1181.8 327.5L1182.2 325.9L1182.6 327.2L1183.0 327.2L1183.4 324.9L1183.8 326.9L1184.2 326.9L1184.6 328.3L1185.0 325.8L1185.4 328.0L1185.8 325.9L1186.2 326.8L1186.6 326.2L1187.0 328.8L1187.4 327.8L1187.8 330.0L1188.2 327.9L1188.6 328.2L1189.0 328.2L1189.4 326.5L1189.8 327.2L1190.2 328.8L1190.6 326.8L1191.0 327.5L1191.4 327.3L1191.8 328.0L1192.2 326.9L1192.6 327.2L1193.0 327.7L1193.4 327.5L1193.8 326.4L1194.2 328.5L1194.6 326.0L1195.0 326.1L1195.4 326.1L1195.8 328.7L1196.2 327.2L1196.6 326.5L1197.0 326.4L1197.4 328.2L1197.8 326.6L1198.2 326.3L1198.6 328.6L1199.0 326.5L1199.4 327.6L1199.8 328.0L1200.2 327.5L1200.6 328.0L1201.0 329.7L1201.4 327.6L1201.8 326.8L1202.2 326.1L1202.6 328.1L1203.0 327.9L1203.4 328.7L1203.8 327.9L1204.2 327.9L1204.6 327.7L1205.0 328.0L1205.4 328.8L1205.8 328.2L1206.2 328.8L1206.6 331.0L1207.0 329.4L1207.4 327.1L1207.8 330.9L1208.2 329.4L1208.6 328.0L1209.0 330.1L1209.4 329.2L1209.8 328.5L1210.2 328.5L1210.6 328.2L1211.0 329.5L1211.4 330.7L1211.8 329.1L1212.2 330.1L1212.6 331.8L1213.0 328.3L1213.4 330.1L1213.8 329.5L1214.2 328.7L1214.6 328.8L1215.0 330.1L1215.4 330.6L1215.8 329.6L1216.2 330.4L1216.6 331.2L1217.0 330.8L1217.4 331.5L1217.8 331.2L1218.2 331.3L1218.6 332.9L1219.0 331.6L1219.4 331.1L1219.8 331.9L1220.2 330.1L1220.6 330.9L1221.0 332.3L1221.4 332.2L1221.8 333.4L1222.2 331.7L1222.6 330.1L1223.0 334.2L1223.4 333.3L1223.8 330.9L1224.2 333.8L1224.6 332.4L1225.0 330.4L1225.4 332.1L1225.8 332.1L1226.2 334.6L1226.6 332.0L1227.0 332.7L1227.4 332.8L1227.8 332.8L1228.2 332.3L1228.6 333.7L1229.0 334.8L1229.4 334.4L1229.8 332.7L1230.2 332.6L1230.6 334.1L1231.0 333.3L1231.4 333.5L1231.8 332.4L1232.2 336.7L1232.6 335.6L1233.0 333.6L1233.4 335.8L1233.8 336.5L1234.2 332.3L1234.6 334.5L1235.0 334.8L1235.4 336.1L1235.8 335.4L1236.2 335.4L1236.6 335.7L1237.0 338.0L1237.4 338.5L1237.8 335.5L1238.2 335.1L1238.6 339.4L1239.0 335.3L1239.4 335.9L1239.8 336.7L1240.2 337.3L1240.6 338.1L1241.0 337.5L1241.4 336.1L1241.8 337.8L1242.2 337.6L1242.6 339.6L1243.0 337.6L1243.4 336.1L1243.8 336.6L1244.2 339.6L1244.6 337.4L1245.0 335.7L1245.4 337.5L1245.8 338.3L1246.2 339.8L1246.6 337.3L1247.0 339.4L1247.4 339.6L1247.8 338.0L1248.2 338.7L1248.6 341.0L1249.0 341.0L1249.4 340.1L1249.8 339.6L1250.2 340.6L1250.6 339.3L1251.0 339.4L1251.4 338.6L1251.8 339.7L1252.2 339.7L1252.6 343.0L1253.0 339.7L1253.4 341.5L1253.8 341.6L1254.2 340.0L1254.6 341.6L1255.0 337.9L1255.4 340.6L1255.8 341.5L1256.2 337.9L1256.6 339.4L1257.0 342.0L1257.4 340.6L1257.8 339.7L1258.2 340.7L1258.6 340.6L1259.0 342.1L1259.4 341.9L1259.8 341.2L1260.2 340.8L1260.6 341.6L1261.0 343.3L1261.4 342.3L1261.8 342.7L1262.2 341.9L1262.6 340.7L1263.0 341.5L1263.4 343.2L1263.8 342.7L1264.2 341.7L1264.6 341.0L1265.0 343.1L1265.4 342.7L1265.8 342.8L1266.2 343.0L1266.6 343.8L1267.0 343.9L1267.4 344.9L1267.8 345.0L1268.2 345.6L1268.6 345.1L1269.0 344.0L1269.4 344.5L1269.8 345.3L1270.2 344.5L1270.6 345.7L1271.0 346.5L1271.4 344.5L1271.8 343.5L1272.2 347.1L1272.6 346.0L1273.0 347.0L1273.4 344.8L1273.8 348.5L1274.2 347.6L1274.6 346.8L1275.0 346.8L1275.4 347.5L1275.8 347.4L1276.2 347.5L1276.6 346.8L1277.0 349.7L1277.4 348.4L1277.8 348.8L1278.2 349.1L1278.6 346.5L1279.0 350.0L1279.4 349.3L1279.8 349.6L1280.2 350.2L1280.6 349.3L1281.0 351.6L1281.4 350.1L1281.8 350.1L1282.2 350.4L1282.6 351.9L1283.0 352.8L1283.4 351.6L1283.8 350.8L1284.2 354.1L1284.6 352.0L1285.0 354.9L1285.4 353.7L1285.8 353.3L1286.2 353.7L1286.6 355.3L1287.0 356.1L1287.4 355.2L1287.8 356.8L1288.2 358.5L1288.6 356.1L1289.0 355.4L1289.4 355.8L1289.8 355.7L1290.2 356.9L1290.6 357.1L1291.0 356.7L1291.4 359.2L1291.8 355.9L1292.2 357.6L1292.6 361.7L1293.0 360.9L1293.4 360.6L1293.8 360.8L1294.2 362.6L1294.6 361.5L1295.0 361.2L1295.4 360.0L1295.8 361.6L1296.2 361.2L1296.6 361.5L1297.0 361.8L1297.4 362.8L1297.8 362.8L1298.2 364.4L1298.6 362.2L1299.0 363.8L1299.4 366.3L1299.8 364.5L1300.2 366.1L1300.6 366.3L1301.0 366.7L1301.4 366.3L1301.8 364.1L1302.2 365.6L1302.6 365.7L1303.0 364.6L1303.4 366.1L1303.8 365.4L1304.2 365.1L1304.6 367.4L1305.0 367.3L1305.4 366.8L1305.8 366.6L1306.2 367.2L1306.6 367.5L1307.0 367.7L1307.4 368.2L1307.8 367.9L1308.2 368.9L1308.6 369.2L1309.0 369.0L1309.4 367.9L1309.8 368.0L1310.2 369.3L1310.6 368.6L1311.0 368.8L1311.4 366.0L1311.8 365.8L1312.2 369.3L1312.6 369.3L1313.0 370.5L1313.4 369.7L1313.8 369.1L1314.2 368.9L1314.6 367.3L1315.0 369.8L1315.4 368.1L1315.8 369.3L1316.2 368.9L1316.6 368.9L1317.0 369.6L1317.4 368.0L1317.8 368.1L1318.2 367.5L1318.6 368.0L1319.0 370.1L1319.4 367.9L1319.8 369.5L1320.2 369.0L1320.6 368.9L1321.0 368.9L1321.4 367.0L1321.8 368.4L1322.2 369.5L1322.6 367.2L1323.0 367.8L1323.4 367.1L1323.8 368.0L1324.2 366.6L1324.6 369.2L1325.0 367.2L1325.4 366.0L1325.8 369.1L1326.2 368.2L1326.6 367.7L1327.0 367.7L1327.4 366.7L1327.8 366.8L1328.2 367.6L1328.6 367.7L1329.0 367.6L1329.4 366.8L1329.8 366.0L1330.2 366.2L1330.6 367.2L1331.0 367.4L1331.4 365.7L1331.8 365.4L1332.2 366.8L1332.6 366.2L1333.0 366.0L1333.4 364.1L1333.8 364.8L1334.2 364.5L1334.6 364.9L1335.0 363.2L1335.4 365.5L1335.8 364.5L1336.2 364.5L1336.6 362.9L1337.0 363.7L1337.4 364.6L1337.8 362.0L1338.2 363.4L1338.6 363.5L1339.0 362.1L1339.4 363.1L1339.8 362.0L1340.2 362.9L1340.6 362.1L1341.0 361.6L1341.4 362.7L1341.8 361.5L1342.2 361.6L1342.6 359.4L1343.0 359.5L1343.4 360.3L1343.8 360.1L1344.2 359.0L1344.6 359.3L1345.0 357.6L1345.4 358.2L1345.8 356.9L1346.2 357.6L1346.6 356.6L1347.0 356.2L1347.4 356.3L1347.8 357.1L1348.2 354.8L1348.6 354.6L1349.0 355.4L1349.4 353.9L1349.8 355.0L1350.2 353.5L1350.6 353.0L1351.0 352.7L1351.4 353.1L1351.8 352.0L1352.2 351.4L1352.6 350.8L1353.0 349.1L1353.4 349.1L1353.8 350.0L1354.2 349.1L1354.6 348.4L1355.0 347.9L1355.4 346.6L1355.8 346.6L1356.2 345.3L1356.6 345.4L1357.0 344.2L1357.4 343.9L1357.8 343.6L1358.2 342.5L1358.6 342.4L1359.0 341.6L1359.4 340.8L1359.8 340.6L1360.2 338.3L1360.6 337.5L1361.0 337.9L1361.4 337.3L1361.8 337.0L1362.2 335.5L1362.6 334.6L1363.0 332.9L1363.4 332.7L1363.8 331.7L1364.2 329.8L1364.6 328.9L1365.0 328.2L1365.4 327.3L1365.8 324.7L1366.2 324.9L1366.6 323.9L1367.0 322.5L1367.4 321.5L1367.8 320.4L1368.2 318.6L1368.6 318.0L1369.0 316.5L1369.4 315.0L1369.8 314.3L1370.2 313.6L1370.6 311.0L1371.0 309.7L1371.4 308.4L1371.8 308.7L1372.2 306.3L1372.6 305.1L1373.0 303.3L1373.4 301.8L1373.8 299.9L1374.2 299.4L1374.6 297.9L1375.0 295.3L1375.4 294.1L1375.8 292.6L1376.2 291.2L1376.6 289.6L1377.0 288.2L1377.4 286.5L1377.8 284.6L1378.2 282.9L1378.6 279.9L1379.0 278.3L1379.4 277.2L1379.8 275.0L1380.2 273.0L1380.6 270.3L1381.0 268.5L1381.4 267.7L1381.8 265.6L1382.2 263.3L1382.6 261.3L1383.0 258.8L1383.4 257.8L1383.8 256.2L1384.2 254.5L1384.6 252.0L1385.0 250.1L1385.4 248.0L1385.8 247.4L1386.2 246.0L1386.6 243.4L1387.0 242.3L1387.4 240.6L1387.8 238.7L1388.2 236.1L1388.6 235.3L1389.0 233.9L1389.4 230.9L1389.8 229.1L1390.2 225.5L1390.6 224.8L1391.0 221.4L1391.4 218.1L1391.8 214.8L1392.2 211.5L1392.6 208.8L1393.0 206.0L1393.4 203.5L1393.8 201.2L1394.2 198.9L1394.6 197.2L1395.0 193.5L1395.4 191.9L1395.8 189.3L1396.2 186.8L1396.6 184.1L1397.0 183.3L1397.4 180.5L1397.8 178.6L1398.2 177.2L1398.6 174.6L1399.0 173.2L1399.4 171.4L1399.8 170.1L1400.2 168.5L1400.6 166.1L1401.0 165.3L1401.4 163.3L1401.8 161.9L1402.2 160.3L1402.6 159.3L1403.0 157.0L1403.4 156.3L1403.8 155.3L1404.2 153.3L1404.6 153.0L1405.0 150.5L1405.4 149.7L1405.8 148.4L1406.2 147.3L1406.6 146.2L1407.0 145.6L1407.4 145.0L1407.8 143.8L1408.2 143.8L1408.6 143.4L1409.0 141.3L1409.4 141.8L1409.8 141.0L1410.2 140.5L1410.6 141.1L1411.0 140.2L1411.4 139.5L1411.8 139.2L1412.2 138.0L1412.6 139.2L1413.0 138.5L1413.4 138.9L1413.8 139.0L1414.2 139.5L1414.6 140.2L1415.0 140.0L1415.4 140.5L1415.8 140.2L1416.2 141.0L1416.6 141.6L1417.0 141.2L1417.4 143.4L1417.8 142.8L1418.2 143.3L1418.6 145.3L1419.0 146.3L1419.4 145.9L1419.8 146.8L1420.2 149.3L1420.6 148.9L1421.0 148.9L1421.4 150.5L1421.8 152.7L1422.2 153.2L1422.6 154.4L1423.0 155.7L1423.4 156.5L1423.8 157.2L1424.2 157.7L1424.6 159.8L1425.0 160.2L1425.4 161.8L1425.8 163.8L1426.2 164.4L1426.6 165.4L1427.0 166.5L1427.4 168.0L1427.8 169.3L1428.2 169.6L1428.6 171.5L1429.0 173.4L1429.4 174.3L1429.8 174.9L1430.2 176.3L1430.6 177.0L1431.0 179.0L1431.4 181.4L1431.8 182.1L1432.2 183.2L1432.6 184.8L1433.0 186.5L1433.4 187.9L1433.8 189.3L1434.2 190.6L1434.6 192.8L1435.0 194.7L1435.4 195.2L1435.8 196.7L1436.2 199.0L1436.6 199.2L1437.0 201.1L1437.4 202.7L1437.8 204.4L1438.2 205.6L1438.6 206.8L1439.0 208.8L1439.4 209.6L1439.8 210.8L1440.2 212.2L1440.6 215.0L1441.0 215.3L1441.4 217.8L1441.8 219.4L1442.2 221.0L1442.6 222.1L1443.0 223.4L1443.4 225.3L1443.8 226.5L1444.2 227.8L1444.6 230.6L1445.0 231.2L1445.4 234.2L1445.8 235.3L1446.2 236.5L1446.6 238.6L1447.0 240.7L1447.4 241.1L1447.8 242.9L1448.2 244.5L1448.6 246.7L1449.0 248.4L1449.4 249.8L1449.8 250.9L1450.2 252.5L1450.6 255.0L1451.0 256.4L1451.4 257.4L1451.8 258.1L1452.2 260.6L1452.6 261.8L1453.0 263.2L1453.4 265.4L1453.8 266.2L1454.2 266.6L1454.6 267.8L1455.0 270.4L1455.4 270.9L1455.8 272.4L1456.2 273.0L1456.6 273.6L1457.0 275.3L1457.4 277.1L1457.8 277.3L1458.2 277.5L1458.6 278.9L1459.0 279.7L1459.4 281.0L1459.8 282.4L1460.2 283.9L1460.6 283.8L1461.0 284.4L1461.4 285.6L1461.8 286.4L1462.2 287.1L1462.6 288.3L1463.0 289.2L1463.4 289.3L1463.8 291.3L1464.2 291.6L1464.6 292.1L1465.0 293.9L1465.4 294.1L1465.8 296.4L1466.2 296.5L1466.6 297.0L1467.0 297.3L1467.4 298.4L1467.8 300.0L1468.2 299.8L1468.6 301.6L1469.0 300.5L1469.4 302.8L1469.8 303.9L1470.2 304.4L1470.6 304.9L1471.0 306.3L1471.4 305.9L1471.8 306.5L1472.2 308.0L1472.6 309.4L1473.0 309.6L1473.4 309.9L1473.8 310.9L1474.2 311.7L1474.6 311.2L1475.0 310.8L1475.4 312.7L1475.8 313.0L1476.2 314.3L1476.6 314.5L1477.0 315.3L1477.4 316.8L1477.8 317.2L1478.2 317.7L1478.6 319.4L1479.0 318.5L1479.4 319.1L1479.8 320.8L1480.2 319.7L1480.6 319.8L1481.0 322.5L1481.4 322.3L1481.8 323.0L1482.2 323.6L1482.6 324.3L1483.0 323.8L1483.4 324.6L1483.8 324.3L1484.2 325.7L1484.6 326.3L1485.0 326.3L1485.4 327.6L1485.8 329.8L1486.2 327.2L1486.6 329.2L1487.0 329.8L1487.4 330.4L1487.8 329.4L1488.2 331.4L1488.6 331.5L1489.0 331.4L1489.4 331.7L1489.8 332.6L1490.2 333.7L1490.6 334.1L1491.0 335.7L1491.4 334.1L1491.8 335.3L1492.2 335.0L1492.6 336.4L1493.0 336.3L1493.4 336.2L1493.8 336.1L1494.2 337.0L1494.6 338.3L1495.0 339.7L1495.4 339.6L1495.8 338.4L1496.2 339.4L1496.6 340.3L1497.0 340.6L1497.4 341.2L1497.8 342.2L1498.2 342.1L1498.6 341.8L1499.0 341.1L1499.4 342.9L1499.8 342.1L1500.2 343.8L1500.6 344.6L1501.0 343.6L1501.4 345.0L1501.8 345.2L1502.2 347.5L1502.6 346.6L1503.0 345.0L1503.4 347.3L1503.8 347.7L1504.2 347.5L1504.6 347.7L1505.0 348.9L1505.4 349.3L1505.8 349.5L1506.2 348.5L1506.6 349.5L1507.0 348.7L1507.4 349.1L1507.8 350.3L1508.2 350.1L1508.6 351.0L1509.0 354.0L1509.4 352.5L1509.8 351.6L1510.2 350.7L1510.6 352.2L1511.0 352.0L1511.4 351.6L1511.8 354.6L1512.2 353.8L1512.6 354.9L1513.0 357.7L1513.4 355.4L1513.8 355.5L1514.2 356.0L1514.6 355.7L1515.0 355.5L1515.4 356.4L1515.8 357.9L1516.2 356.9L1516.6 356.1L1517.0 356.5L1517.4 357.0L1517.8 358.3L1518.2 359.0L1518.6 359.3L1519.0 360.2L1519.4 359.2L1519.8 360.4L1520.2 360.2L1520.6 360.9L1521.0 358.6L1521.4 361.9L1521.8 359.5L1522.2 360.1L1522.6 362.3L1523.0 361.4L1523.4 363.8L1523.8 362.5L1524.2 361.6L1524.6 363.0L1525.0 362.7L1525.4 364.9L1525.8 365.3L1526.2 364.6L1526.6 363.7L1527.0 364.5L1527.4 365.7L1527.8 364.1L1528.2 364.4L1528.6 366.3L1529.0 366.5L1529.4 365.7L1529.8 365.9L1530.2 364.4L1530.6 368.0L1531.0 366.8L1531.4 365.7L1531.8 366.3L1532.2 366.8L1532.6 369.8L1533.0 368.9L1533.4 367.0L1533.8 370.7L1534.2 370.3L1534.6 368.0L1535.0 366.5L1535.4 370.7L1535.8 369.2L1536.2 369.9L1536.6 369.7L1537.0 371.9L1537.4 372.3L1537.8 371.8L1538.2 371.0L1538.6 371.6L1539.0 372.2L1539.4 370.0L1539.8 373.3L1540.2 371.8L1540.6 372.6L1541.0 372.7L1541.4 373.7L1541.8 374.1L1542.2 375.5L1542.6 372.8L1543.0 372.4L1543.4 373.7L1543.8 373.0L1544.2 374.9L1544.6 373.1L1545.0 374.4L1545.4 375.4L1545.8 375.7L1546.2 374.9L1546.6 376.4L1547.0 376.4L1547.4 373.2L1547.8 375.7L1548.2 375.6L1548.6 375.2L1549.0 375.0L1549.4 375.9L1549.8 376.5L1550.2 376.5L1550.6 377.9L1551.0 377.6L1551.4 375.9L1551.8 375.8L1552.2 377.9L1552.6 376.2L1553.0 377.4L1553.4 377.9L1553.8 378.7L1554.2 378.2L1554.6 379.5L1555.0 377.4L1555.4 378.9L1555.8 377.4L1556.2 378.6L1556.6 378.7L1557.0 377.5L1557.4 375.6L1557.8 380.1L1558.2 379.5L1558.6 379.4L1559.0 378.5L1559.4 379.1L1559.8 380.2L1560.2 379.8L1560.6 381.4L1561.0 380.2L1561.4 379.2L1561.8 381.1L1562.2 379.7L1562.6 380.9L1563.0 378.5L1563.4 380.5L1563.8 381.7L1564.2 380.3L1564.6 381.2L1565.0 382.2L1565.4 381.6L1565.8 383.9L1566.2 381.4L1566.6 381.6L1567.0 381.8L1567.4 379.6L1567.8 380.2L1568.2 383.0L1568.6 382.0L1569.0 384.3L1569.4 382.5L1569.8 382.5L1570.2 384.1L1570.6 383.2L1571.0 385.0L1571.4 381.6L1571.8 383.7L1572.2 384.1L1572.6 384.0L1573.0 384.9L1573.4 384.8L1573.8 383.5L1574.2 382.8L1574.6 385.0L1575.0 383.8L1575.4 385.1L1575.8 385.7L1576.2 384.2L1576.6 382.8L1577.0 383.8L1577.4 385.2L1577.8 383.9L1578.2 385.9L1578.6 384.5L1579.0 384.7L1579.4 383.7L1579.8 384.5L1580.2 386.2L1580.6 384.3L1581.0 384.4L1581.4 383.9L1581.8 386.1L1582.2 383.0L1582.6 384.3L1583.0 386.5L1583.4 387.3L1583.8 385.1L1584.2 386.8L1584.6 382.8L1585.0 386.7L1585.4 386.2L1585.8 384.1L1586.2 383.4L1586.6 385.3L1587.0 386.4L1587.4 386.7L1587.8 386.4L1588.2 387.4L1588.6 387.4L1589.0 384.5L1589.4 386.0L1589.8 385.9L1590.2 388.2L1590.6 386.1L1591.0 388.3L1591.4 387.1L1591.8 390.4L1592.2 387.0L1592.6 387.2L1593.0 387.1L1593.4 387.5L1593.8 390.9L1594.2 386.7L1594.6 386.3L1595.0 387.3L1595.4 388.7L1595.8 386.3L1596.2 389.0L1596.6 389.0L1597.0 387.7L1597.4 387.7L1597.8 386.9L1598.2 387.8L1598.6 387.0L1599.0 390.1L1599.4 390.8L1599.8 388.0L1600.2 388.4L1600.6 385.7L1601.0 387.8L1601.4 389.2L1601.8 389.1L1602.2 388.9L1602.6 390.1L1603.0 389.0L1603.4 388.4L1603.8 391.4L1604.2 386.2L1604.6 387.4L1605.0 388.0L1605.4 388.1L1605.8 388.1L1606.2 389.0L1606.6 388.3L1607.0 389.3L1607.4 390.3L1607.8 389.5L1608.2 389.7L1608.6 388.2L1609.0 387.9L1609.4 389.2L1609.8 391.0L1610.2 390.3L1610.6 391.3L1611.0 391.2L1611.4 391.5L1611.8 388.6L1612.2 391.7L1612.6 391.0" stroke="#0f70bd"/>
<path d="M1164.6 332.5L1165.0 331.1L1165.4 330.9L1165.8 330.6L1166.2 331.0L1166.6 329.3L1167.0 330.8L1167.4 331.1L1167.8 332.2L1168.2 330.7L1168.6 331.6L1169.0 333.4L1169.4 331.2L1169.8 332.6L1170.2 331.4L1170.6 331.9L1171.0 332.6L1171.4 333.1L1171.8 331.8L1172.2 331.4L1172.6 334.0L1173.0 332.8L1173.4 333.5L1173.8 333.7L1174.2 333.6L1174.6 332.7L1175.0 332.9L1175.4 331.5L1175.8 333.3L1176.2 332.8L1176.6 333.3L1177.0 335.2L1177.4 334.1L1177.8 333.6L1178.2 332.2L1178.6 334.4L1179.0 335.2L1179.4 333.0L1179.8 334.3L1180.2 333.4L1180.6 333.8L1181.0 333.6L1181.4 332.5L1181.8 333.6L1182.2 332.6L1182.6 335.6L1183.0 335.3L1183.4 334.4L1183.8 334.7L1184.2 334.5L1184.6 334.7L1185.0 334.7L1185.4 334.3L1185.8 334.4L1186.2 333.3L1186.6 333.7L1187.0 334.1L1187.4 335.0L1187.8 334.4L1188.2 336.7L1188.6 334.7L1189.0 334.5L1189.4 335.3L1189.8 336.0L1190.2 336.8L1190.6 336.0L1191.0 334.5L1191.4 334.9L1191.8 336.1L1192.2 335.4L1192.6 336.0L1193.0 335.1L1193.4 336.8L1193.8 336.7L1194.2 336.4L1194.6 335.5L1195.0 333.8L1195.4 334.1L1195.8 335.7L1196.2 336.1L1196.6 332.6L1197.0 335.0L1197.4 336.6L1197.8 336.5L1198.2 335.1L1198.6 336.2L1199.0 335.7L1199.4 335.4L1199.8 336.8L1200.2 336.8L1200.6 335.2L1201.0 334.8L1201.4 334.5L1201.8 334.4L1202.2 337.1L1202.6 337.7L1203.0 336.1L1203.4 336.9L1203.8 335.2L1204.2 335.9L1204.6 336.9L1205.0 336.3L1205.4 336.0L1205.8 334.4L1206.2 334.6L1206.6 335.6L1207.0 335.5L1207.4 336.0L1207.8 335.5L1208.2 335.9L1208.6 336.2L1209.0 336.7L1209.4 336.2L1209.8 335.6L1210.2 335.9L1210.6 337.1L1211.0 336.0L1211.4 335.3L1211.8 335.3L1212.2 336.5L1212.6 336.8L1213.0 337.5L1213.4 336.0L1213.8 337.6L1214.2 336.0L1214.6 336.1L1215.0 335.8L1215.4 336.8L1215.8 337.3L1216.2 336.3L1216.6 335.8L1217.0 334.8L1217.4 336.5L1217.8 336.0L1218.2 336.2L1218.6 335.7L1219.0 335.5L1219.4 335.9L1219.8 336.8L1220.2 337.3L1220.6 336.3L1221.0 336.7L1221.4 336.2L1221.8 336.2L1222.2 335.0L1222.6 337.2L1223.0 336.9L1223.4 337.8L1223.8 335.7L1224.2 336.5L1224.6 335.4L1225.0 336.6L1225.4 336.2L1225.8 337.0L1226.2 336.2L1226.6 336.9L1227.0 335.8L1227.4 336.9L1227.8 336.0L1228.2 335.8L1228.6 336.3L1229.0 336.6L1229.4 334.9L1229.8 334.8L1230.2 336.4L1230.6 336.1L1231.0 334.2L1231.4 334.5L1231.8 335.4L1232.2 336.5L1232.6 336.3L1233.0 337.1L1233.4 337.2L1233.8 338.4L1234.2 334.7L1234.6 336.0L1235.0 337.1L1235.4 334.8L1235.8 334.6L1236.2 336.2L1236.6 337.0L1237.0 337.2L1237.4 334.2L1237.8 334.7L1238.2 335.8L1238.6 335.4L1239.0 336.2L1239.4 336.0L1239.8 337.5L1240.2 335.7L1240.6 335.9L1241.0 335.8L1241.4 336.8L1241.8 334.6L1242.2 336.0L1242.6 334.9L1243.0 334.2L1243.4 336.7L1243.8 336.1L1244.2 336.9L1244.6 335.8L1245.0 336.1L1245.4 335.6L1245.8 336.0L1246.2 335.0L1246.6 337.0L1247.0 334.5L1247.4 337.0L1247.8 335.1L1248.2 336.1L1248.6 335.3L1249.0 335.6L1249.4 336.6L1249.8 335.2L1250.2 334.1L1250.6 335.2L1251.0 335.6L1251.4 332.5L1251.8 335.8L1252.2 335.9L1252.6 333.1L1253.0 334.6L1253.4 335.5L1253.8 333.5L1254.2 334.2L1254.6 334.3L1255.0 335.1L1255.4 335.6L1255.8 334.4L1256.2 334.5L1256.6 335.3L1257.0 334.8L1257.4 334.1L1257.8 335.5L1258.2 332.7L1258.6 334.2L1259.0 333.6L1259.4 333.5L1259.8 334.1L1260.2 333.9L1260.6 336.2L1261.0 334.4L1261.4 334.0L1261.8 335.2L1262.2 334.5L1262.6 331.6L1263.0 333.5L1263.4 334.1L1263.8 332.7L1264.2 333.5L1264.6 332.7L1265.0 333.4L1265.4 331.4L1265.8 331.0L1266.2 332.3L1266.6 333.0L1267.0 334.0L1267.4 332.3L1267.8 331.8L1268.2 333.4L1268.6 332.4L1269.0 334.1L1269.4 332.1L1269.8 330.2L1270.2 331.3L1270.6 331.0L1271.0 330.5L1271.4 331.0L1271.8 331.0L1272.2 331.3L1272.6 331.0L1273.0 331.8L1273.4 331.7L1273.8 331.4L1274.2 331.3L1274.6 329.2L1275.0 329.3L1275.4 330.0L1275.8 331.0L1276.2 329.2L1276.6 330.1L1277.0 330.7L1277.4 332.3L1277.8 330.5L1278.2 329.6L1278.6 331.1L1279.0 330.1L1279.4 329.5L1279.8 330.7L1280.2 328.7L1280.6 329.6L1281.0 329.4L1281.4 330.0L1281.8 328.0L1282.2 327.7L1282.6 328.4L1283.0 328.4L1283.4 328.6L1283.8 328.1L1284.2 328.7L1284.6 328.8L1285.0 328.2L1285.4 326.9L1285.8 328.8L1286.2 326.2L1286.6 327.2L1287.0 328.1L1287.4 326.6L1287.8 328.1L1288.2 328.5L1288.6 328.1L1289.0 326.9L1289.4 327.2L1289.8 325.8L1290.2 326.4L1290.6 326.3L1291.0 325.8L1291.4 325.7L1291.8 325.2L1292.2 323.6L1292.6 325.4L1293.0 325.1L1293.4 326.4L1293.8 325.1L1294.2 324.3L1294.6 324.8L1295.0 324.4L1295.4 323.7L1295.8 323.2L1296.2 322.1L1296.6 323.1L1297.0 324.1L1297.4 321.1L1297.8 321.5L1298.2 322.6L1298.6 321.9L1299.0 321.8L1299.4 319.8L1299.8 320.5L1300.2 321.0L1300.6 320.8L1301.0 320.2L1301.4 319.0L1301.8 319.8L1302.2 318.1L1302.6 318.0L1303.0 317.4L1303.4 318.9L1303.8 317.2L1304.2 317.2L1304.6 315.2L1305.0 317.1L1305.4 316.2L1305.8 314.3L1306.2 313.9L1306.6 315.7L1307.0 313.5L1307.4 314.9L1307.8 312.9L1308.2 311.0L1308.6 313.0L1309.0 312.1L1309.4 311.7L1309.8 310.4L1310.2 310.1L1310.6 310.4L1311.0 308.7L1311.4 307.5L1311.8 308.8L1312.2 307.3L1312.6 308.0L1313.0 306.4L1313.4 305.9L1313.8 305.5L1314.2 303.6L1314.6 305.2L1315.0 303.6L1315.4 303.3L1315.8 303.7L1316.2 302.3L1316.6 302.2L1317.0 301.3L1317.4 301.0L1317.8 300.1L1318.2 300.0L1318.6 298.6L1319.0 298.4L1319.4 297.1L1319.8 297.5L1320.2 295.1L1320.6 295.7L1321.0 295.1L1321.4 294.5L1321.8 293.6L1322.2 293.7L1322.6 293.4L1323.0 291.3L1323.4 290.0L1323.8 289.7L1324.2 289.1L1324.6 288.7L1325.0 287.9L1325.4 287.7L1325.8 286.2L1326.2 285.6L1326.6 284.8L1327.0 283.5L1327.4 283.0L1327.8 283.6L1328.2 281.4L1328.6 280.2L1329.0 278.8L1329.4 279.4L1329.8 277.9L1330.2 276.9L1330.6 277.4L1331.0 276.1L1331.4 274.0L1331.8 273.7L1332.2 273.4L1332.6 272.5L1333.0 270.8L1333.4 271.1L1333.8 270.2L1334.2 268.2L1334.6 267.0L1335.0 266.3L1335.4 266.2L1335.8 265.5L1336.2 264.2L1336.6 263.0L1337.0 262.4L1337.4 261.7L1337.8 260.2L1338.2 259.1L1338.6 258.9L1339.0 258.6L1339.4 257.4L1339.8 256.6L1340.2 255.4L1340.6 255.3L1341.0 253.5L1341.4 253.4L1341.8 252.4L1342.2 251.9L1342.6 250.8L1343.0 250.8L1343.4 249.8L1343.8 248.9L1344.2 248.7L1344.6 247.8L1345.0 247.0L1345.4 246.4L1345.8 246.4L1346.2 245.2L1346.6 245.1L1347.0 244.6L1347.4 244.5L1347.8 244.0L1348.2 244.6L1348.6 242.7L1349.0 243.4L1349.4 243.0L1349.8 243.2L1350.2 242.0L1350.6 243.0L1351.0 241.9L1351.4 242.8L1351.8 242.8L1352.2 242.7L1352.6 242.5L1353.0 242.7L1353.4 243.3L1353.8 243.2L1354.2 242.9L1354.6 243.3L1355.0 244.6L1355.4 245.0L1355.8 245.2L1356.2 245.4L1356.6 246.0L1357.0 246.5L1357.4 246.9L1357.8 246.9L1358.2 247.4L1358.6 247.7L1359.0 248.7L1359.4 248.7L1359.8 249.6L1360.2 250.6L1360.6 250.5L1361.0 251.5L1361.4 252.2L1361.8 251.4L1362.2 252.1L1362.6 253.4L1363.0 253.5L1363.4 254.5L1363.8 255.2L1364.2 255.3L1364.6 256.4L1365.0 257.4L1365.4 257.7L1365.8 257.7L1366.2 258.6L1366.6 259.2L1367.0 260.7L1367.4 260.8L1367.8 261.3L1368.2 262.4L1368.6 263.3L1369.0 263.8L1369.4 264.7L1369.8 265.5L1370.2 266.5L1370.6 267.4L1371.0 267.9L1371.4 268.3L1371.8 269.4L1372.2 269.7L1372.6 271.2L1373.0 271.6L1373.4 272.2L1373.8 271.8L1374.2 274.4L1374.6 274.7L1375.0 275.3L1375.4 275.5L1375.8 276.4L1376.2 277.9L1376.6 277.1L1377.0 278.3L1377.4 278.9L1377.8 279.3L1378.2 280.0L1378.6 280.1L1379.0 281.4L1379.4 281.2L1379.8 283.0L1380.2 283.1L1380.6 283.0L1381.0 283.0L1381.4 284.4L1381.8 285.0L1382.2 284.9L1382.6 286.4L1383.0 286.3L1383.4 286.4L1383.8 286.4L1384.2 287.2L1384.6 287.6L1385.0 288.2L1385.4 288.7L1385.8 288.6L1386.2 289.0L1386.6 289.7L1387.0 289.6L1387.4 289.5L1387.8 290.1L1388.2 289.9L1388.6 290.5L1389.0 290.5L1389.4 290.2L1389.8 291.1L1390.2 291.0L1390.6 291.4L1391.0 290.7L1391.4 291.8L1391.8 291.9L1392.2 291.3L1392.6 291.4L1393.0 291.5L1393.4 291.4L1393.8 291.7L1394.2 291.0L1394.6 290.7L1395.0 291.0L1395.4 291.7L1395.8 290.5L1396.2 290.0L1396.6 289.8L1397.0 289.9L1397.4 289.9L1397.8 288.6L1398.2 288.5L1398.6 287.9L1399.0 287.3L1399.4 286.5L1399.8 286.1L1400.2 285.2L1400.6 283.8L1401.0 284.2L1401.4 281.8L1401.8 280.9L1402.2 280.9L1402.6 279.6L1403.0 278.4L1403.4 277.5L1403.8 276.6L1404.2 275.0L1404.6 273.8L1405.0 272.4L1405.4 271.2L1405.8 269.9L1406.2 269.3L1406.6 267.6L1407.0 266.3L1407.4 264.4L1407.8 263.6L1408.2 261.0L1408.6 260.4L1409.0 259.0L1409.4 256.9L1409.8 255.3L1410.2 254.4L1410.6 252.4L1411.0 250.8L1411.4 249.6L1411.8 247.7L1412.2 246.5L1412.6 245.7L1413.0 243.1L1413.4 241.9L1413.8 239.3L1414.2 238.0L1414.6 235.9L1415.0 233.9L1415.4 232.1L1415.8 230.4L1416.2 227.3L1416.6 225.6L1417.0 223.1L1417.4 221.2L1417.8 218.7L1418.2 216.8L1418.6 215.4L1419.0 213.6L1419.4 212.3L1419.8 210.4L1420.2 209.4L1420.6 208.0L1421.0 207.3L1421.4 205.9L1421.8 204.1L1422.2 202.5L1422.6 201.6L1423.0 200.5L1423.4 198.8L1423.8 197.4L1424.2 195.8L1424.6 195.4L1425.0 195.2L1425.4 193.4L1425.8 192.7L1426.2 191.9L1426.6 191.1L1427.0 190.4L1427.4 188.5L1427.8 188.5L1428.2 188.0L1428.6 187.1L1429.0 187.0L1429.4 185.8L1429.8 185.8L1430.2 185.7L1430.6 184.5L1431.0 184.3L1431.4 184.0L1431.8 184.2L1432.2 183.0L1432.6 183.2L1433.0 183.8L1433.4 184.4L1433.8 184.5L1434.2 184.2L1434.6 185.6L1435.0 185.4L1435.4 185.6L1435.8 186.6L1436.2 187.5L1436.6 187.6L1437.0 187.7L1437.4 188.9L1437.8 190.0L1438.2 191.2L1438.6 191.3L1439.0 192.7L1439.4 193.1L1439.8 194.6L1440.2 195.0L1440.6 196.4L1441.0 197.0L1441.4 198.3L1441.8 199.2L1442.2 200.1L1442.6 202.5L1443.0 203.6L1443.4 204.4L1443.8 205.2L1444.2 207.0L1444.6 207.5L1445.0 208.9L1445.4 210.3L1445.8 211.1L1446.2 212.7L1446.6 213.2L1447.0 214.4L1447.4 215.6L1447.8 216.2L1448.2 217.4L1448.6 219.4L1449.0 219.5L1449.4 221.9L1449.8 222.7L1450.2 224.3L1450.6 225.3L1451.0 226.5L1451.4 228.2L1451.8 228.6L1452.2 229.8L1452.6 231.5L1453.0 231.9L1453.4 233.8L1453.8 234.8L1454.2 235.4L1454.6 236.2L1455.0 237.1L1455.4 240.0L1455.8 239.6L1456.2 240.8L1456.6 242.9L1457.0 243.8L1457.4 244.7L1457.8 245.7L1458.2 246.5L1458.6 247.3L1459.0 248.5L1459.4 250.1L1459.8 251.4L1460.2 252.4L1460.6 252.9L1461.0 252.8L1461.4 255.2L1461.8 255.8L1462.2 255.6L1462.6 258.6L1463.0 259.0L1463.4 259.9L1463.8 261.0L1464.2 261.9L1464.6 263.0L1465.0 263.9L1465.4 264.8L1465.8 266.1L1466.2 266.9L1466.6 268.9L1467.0 268.8L1467.4 269.4L1467.8 270.3L1468.2 271.8L1468.6 272.6L1469.0 273.6L1469.4 274.3L1469.8 275.3L1470.2 276.7L1470.6 278.0L1471.0 278.4L1471.4 279.1L1471.8 279.5L1472.2 280.4L1472.6 281.9L1473.0 282.7L1473.4 283.7L1473.8 284.1L1474.2 285.5L1474.6 285.4L1475.0 286.7L1475.4 287.9L1475.8 289.5L1476.2 289.8L1476.6 290.5L1477.0 292.1L1477.4 292.8L1477.8 294.3L1478.2 294.9L1478.6 295.7L1479.0 296.4L1479.4 297.7L1479.8 297.8L1480.2 298.3L1480.6 300.5L1481.0 300.5L1481.4 301.6L1481.8 302.8L1482.2 303.8L1482.6 302.3L1483.0 304.1L1483.4 306.1L1483.8 305.1L1484.2 307.0L1484.6 307.2L1485.0 307.6L1485.4 308.6L1485.8 308.4L1486.2 310.2L1486.6 311.2L1487.0 310.3L1487.4 311.3L1487.8 313.0L1488.2 313.0L1488.6 313.2L1489.0 314.8L1489.4 313.5L1489.8 314.8L1490.2 315.6L1490.6 315.9L1491.0 317.0L1491.4 316.1L1491.8 317.7L1492.2 317.7L1492.6 319.4L1493.0 319.8L1493.4 319.3L1493.8 319.6L1494.2 320.7L1494.6 320.7L1495.0 321.4L1495.4 322.5L1495.8 322.5L1496.2 324.4L1496.6 323.8L1497.0 323.9L1497.4 324.0L1497.8 324.8L1498.2 326.3L1498.6 326.5L1499.0 327.5L1499.4 327.9L1499.8 327.8L1500.2 327.5L1500.6 328.3L1501.0 328.9L1501.4 328.2L1501.8 329.9L1502.2 329.4L1502.6 330.4L1503.0 330.6L1503.4 331.7L1503.8 333.4L1504.2 331.3L1504.6 332.5L1505.0 334.2L1505.4 332.6L1505.8 333.4L1506.2 333.9L1506.6 334.5L1507.0 333.6L1507.4 335.2L1507.8 335.7L1508.2 337.4L1508.6 336.0L1509.0 336.0L1509.4 336.8L1509.8 335.2L1510.2 337.5L1510.6 338.7L1511.0 337.9L1511.4 338.2L1511.8 338.4L1512.2 338.9L1512.6 338.3L1513.0 340.5L1513.4 339.4L1513.8 339.7L1514.2 341.4L1514.6 340.6L1515.0 340.5L1515.4 342.3L1515.8 341.5L1516.2 342.3L1516.6 341.5L1517.0 340.9L1517.4 342.5L1517.8 343.6L1518.2 342.5L1518.6 343.3L1519.0 343.8L1519.4 343.7L1519.8 343.8L1520.2 344.5L1520.6 344.4L1521.0 344.0L1521.4 345.4L1521.8 345.4L1522.2 345.3L1522.6 345.8L1523.0 343.6L1523.4 345.9L1523.8 345.9L1524.2 344.6L1524.6 347.8L1525.0 346.7L1525.4 346.4L1525.8 346.6L1526.2 347.3L1526.6 347.3L1527.0 346.3L1527.4 347.3L1527.8 348.2L1528.2 348.5L1528.6 348.9L1529.0 347.6L1529.4 348.1L1529.8 349.1L1530.2 348.5L1530.6 349.3L1531.0 348.7L1531.4 349.9L1531.8 349.7L1532.2 350.3L1532.6 350.0L1533.0 349.6L1533.4 349.4L1533.8 350.6L1534.2 350.2L1534.6 349.7L1535.0 350.6L1535.4 351.8L1535.8 352.3L1536.2 352.1L1536.6 352.7L1537.0 351.5L1537.4 351.8L1537.8 351.3L1538.2 351.6L1538.6 353.7L1539.0 352.9L1539.4 353.2L1539.8 354.9L1540.2 354.5L1540.6 352.4L1541.0 354.0L1541.4 352.7L1541.8 354.3L1542.2 352.1L1542.6 353.0L1543.0 353.1L1543.4 355.6L1543.8 352.7L1544.2 355.2L1544.6 355.3L1545.0 354.6L1545.4 355.3L1545.8 356.9L1546.2 355.1L1546.6 354.7L1547.0 356.2L1547.4 355.8L1547.8 354.3L1548.2 355.5L1548.6 355.7L1549.0 354.6L1549.4 354.9L1549.8 355.2L1550.2 354.8L1550.6 356.3L1551.0 356.2L1551.4 354.1L1551.8 355.7L1552.2 356.3L1552.6 355.0L1553.0 356.0L1553.4 356.5L1553.8 354.9L1554.2 356.1L1554.6 354.3L1555.0 357.1L1555.4 355.8L1555.8 355.2L1556.2 354.8L1556.6 355.0L1557.0 357.6L1557.4 355.7L1557.8 355.9L1558.2 356.1L1558.6 355.1L1559.0 357.1L1559.4 354.1L1559.8 357.1L1560.2 355.6L1560.6 356.3L1561.0 356.5L1561.4 357.0L1561.8 355.1L1562.2 356.7L1562.6 356.1L1563.0 355.9L1563.4 355.8L1563.8 357.0L1564.2 356.3L1564.6 357.0L1565.0 356.7L1565.4 354.0L1565.8 355.6L1566.2 356.6L1566.6 354.8L1567.0 354.0L1567.4 353.4L1567.8 357.2L1568.2 354.5L1568.6 355.4L1569.0 354.2L1569.4 355.5L1569.8 356.6L1570.2 353.6L1570.6 354.8L1571.0 354.0L1571.4 352.9L1571.8 353.7L1572.2 354.5L1572.6 355.5L1573.0 355.5L1573.4 354.1L1573.8 352.5L1574.2 354.6L1574.6 353.8L1575.0 353.7L1575.4 352.5L1575.8 353.3L1576.2 355.3L1576.6 354.7L1577.0 354.4L1577.4 353.7L1577.8 352.5L1578.2 352.8L1578.6 352.8L1579.0 353.0L1579.4 352.1L1579.8 351.5L1580.2 353.4L1580.6 351.8L1581.0 352.9L1581.4 351.8L1581.8 352.5L1582.2 352.2L1582.6 352.4L1583.0 352.2L1583.4 350.4L1583.8 349.9L1584.2 351.1L1584.6 352.7L1585.0 350.1L1585.4 349.9L1585.8 352.9L1586.2 349.0L1586.6 349.8L1587.0 349.9L1587.4 349.5L1587.8 349.4L1588.2 351.0L1588.6 350.1L1589.0 349.9L1589.4 348.0L1589.8 350.4L1590.2 349.6L1590.6 349.5L1591.0 350.2L1591.4 349.6L1591.8 349.2L1592.2 349.6L1592.6 348.4L1593.0 348.1L1593.4 347.6L1593.8 350.0L1594.2 348.3L1594.6 349.1L1595.0 350.1L1595.4 350.8L1595.8 348.6L1596.2 349.2L1596.6 349.1L1597.0 347.7L1597.4 348.6L1597.8 352.0L1598.2 349.2L1598.6 351.1L1599.0 350.2L1599.4 351.3L1599.8 351.0L1600.2 350.0L1600.6 348.6L1601.0 351.5L1601.4 351.0L1601.8 351.0L1602.2 351.7L1602.6 350.3L1603.0 351.6L1603.4 351.8L1603.8 350.7L1604.2 351.3L1604.6 352.8L1605.0 351.1L1605.4 354.5L1605.8 354.9L1606.2 354.5L1606.6 355.2L1607.0 353.4L1607.4 355.8L1607.8 356.7L1608.2 356.8L1608.6 357.6L1609.0 356.9L1609.4 359.4L1609.8 358.2L1610.2 358.9L1610.6 359.5L1611.0 358.0L1611.4 358.0L1611.8 360.3L1612.2 358.6L1612.6 359.6" stroke="#d9541e"/>
<path d="M1164.6 329.1L1165.0 327.3L1165.4 327.4L1165.8 327.1L1166.2 327.2L1166.6 329.7L1167.0 328.5L1167.4 328.8L1167.8 326.3L1168.2 325.8L1168.6 326.9L1169.0 328.7L1169.4 328.8L1169.8 326.0L1170.2 326.2L1170.6 328.2L1171.0 327.8L1171.4 327.9L1171.8 328.1L1172.2 326.6L1172.6 327.5L1173.0 327.1L1173.4 328.4L1173.8 327.0L1174.2 325.6L1174.6 328.3L1175.0 328.7L1175.4 327.9L1175.8 326.8L1176.2 326.2L1176.6 327.8L1177.0 326.5L1177.4 327.3L1177.8 327.5L1178.2 326.7L1178.6 325.0L1179.0 327.1L1179.4 325.8L1179.8 325.3L1180.2 326.5L1180.6 326.6L1181.0 326.4L1181.4 327.0L1181.8 324.7L1182.2 326.8L1182.6 327.7L1183.0 326.2L1183.4 325.8L1183.8 326.0L1184.2 327.1L1184.6 325.9L1185.0 325.3L1185.4 324.5L1185.8 327.1L1186.2 327.1L1186.6 325.8L1187.0 327.5L1187.4 325.3L1187.8 326.2L1188.2 324.4L1188.6 324.6L1189.0 325.4L1189.4 325.8L1189.8 325.9L1190.2 324.5L1190.6 324.8L1191.0 325.1L1191.4 324.9L1191.8 324.8L1192.2 325.7L1192.6 326.0L1193.0 323.3L1193.4 326.0L1193.8 324.9L1194.2 325.0L1194.6 325.0L1195.0 325.4L1195.4 325.2L1195.8 323.2L1196.2 325.2L1196.6 323.4L1197.0 324.7L1197.4 324.5L1197.8 322.9L1198.2 324.2L1198.6 323.9L1199.0 323.5L1199.4 325.7L1199.8 324.1L1200.2 323.5L1200.6 325.3L1201.0 323.7L1201.4 323.5L1201.8 321.9L1202.2 324.0L1202.6 324.3L1203.0 325.0L1203.4 322.4L1203.8 324.1L1204.2 324.4L1204.6 323.7L1205.0 323.0L1205.4 321.5L1205.8 323.0L1206.2 322.3L1206.6 321.2L1207.0 323.2L1207.4 322.5L1207.8 322.3L1208.2 324.1L1208.6 321.9L1209.0 320.4L1209.4 320.2L1209.8 322.5L1210.2 321.8L1210.6 321.2L1211.0 319.9L1211.4 321.0L1211.8 320.6L1212.2 321.4L1212.6 320.6L1213.0 320.5L1213.4 321.1L1213.8 320.4L1214.2 321.3L1214.6 317.9L1215.0 319.7L1215.4 321.7L1215.8 320.7L1216.2 319.5L1216.6 320.1L1217.0 319.7L1217.4 319.8L1217.8 321.2L1218.2 319.5L1218.6 319.9L1219.0 318.9L1219.4 318.8L1219.8 318.0L1220.2 318.7L1220.6 318.8L1221.0 318.7L1221.4 318.9L1221.8 318.8L1222.2 319.2L1222.6 318.3L1223.0 319.5L1223.4 318.8L1223.8 319.3L1224.2 317.9L1224.6 318.9L1225.0 317.8L1225.4 316.2L1225.8 317.4L1226.2 317.2L1226.6 315.9L1227.0 316.2L1227.4 316.4L1227.8 318.7L1228.2 316.9L1228.6 318.1L1229.0 317.2L1229.4 317.2L1229.8 316.8L1230.2 314.7L1230.6 316.9L1231.0 314.8L1231.4 316.0L1231.8 315.4L1232.2 316.7L1232.6 316.2L1233.0 316.6L1233.4 315.3L1233.8 314.8L1234.2 315.3L1234.6 316.5L1235.0 314.8L1235.4 314.2L1235.8 313.0L1236.2 313.3L1236.6 313.7L1237.0 314.2L1237.4 314.0L1237.8 313.3L1238.2 313.3L1238.6 314.4L1239.0 314.5L1239.4 313.8L1239.8 313.9L1240.2 313.5L1240.6 313.9L1241.0 311.1L1241.4 311.6L1241.8 312.1L1242.2 312.0L1242.6 312.7L1243.0 309.8L1243.4 311.4L1243.8 311.3L1244.2 310.4L1244.6 310.7L1245.0 311.5L1245.4 310.8L1245.8 310.2L1246.2 310.3L1246.6 309.8L1247.0 310.6L1247.4 309.5L1247.8 310.3L1248.2 308.8L1248.6 309.1L1249.0 308.0L1249.4 308.6L1249.8 309.3L1250.2 307.5L1250.6 307.9L1251.0 308.1L1251.4 307.5L1251.8 308.4L1252.2 306.4L1252.6 308.0L1253.0 308.2L1253.4 308.4L1253.8 306.7L1254.2 305.9L1254.6 305.0L1255.0 306.8L1255.4 306.7L1255.8 306.1L1256.2 305.9L1256.6 306.0L1257.0 305.0L1257.4 303.8L1257.8 303.7L1258.2 304.0L1258.6 303.7L1259.0 302.9L1259.4 303.7L1259.8 303.0L1260.2 304.2L1260.6 303.3L1261.0 303.9L1261.4 301.8L1261.8 301.8L1262.2 301.1L1262.6 302.5L1263.0 304.7L1263.4 301.9L1263.8 301.1L1264.2 301.4L1264.6 300.9L1265.0 301.5L1265.4 300.4L1265.8 299.3L1266.2 298.2L1266.6 299.8L1267.0 300.0L1267.4 299.0L1267.8 297.8L1268.2 297.8L1268.6 297.6L1269.0 298.0L1269.4 297.1L1269.8 297.8L1270.2 296.3L1270.6 295.5L1271.0 297.2L1271.4 294.5L1271.8 294.2L1272.2 296.2L1272.6 294.3L1273.0 295.1L1273.4 291.2L1273.8 293.8L1274.2 292.4L1274.6 292.0L1275.0 291.9L1275.4 288.9L1275.8 289.9L1276.2 290.5L1276.6 292.3L1277.0 288.7L1277.4 290.6L1277.8 288.8L1278.2 288.7L1278.6 286.7L1279.0 287.4L1279.4 285.8L1279.8 285.1L1280.2 286.5L1280.6 284.5L1281.0 284.2L1281.4 284.6L1281.8 283.0L1282.2 282.1L1282.6 282.7L1283.0 282.2L1283.4 282.6L1283.8 280.1L1284.2 280.9L1284.6 280.3L1285.0 278.9L1285.4 278.5L1285.8 278.0L1286.2 276.7L1286.6 275.9L1287.0 276.8L1287.4 274.9L1287.8 274.4L1288.2 275.1L1288.6 273.6L1289.0 273.1L1289.4 271.8L1289.8 271.4L1290.2 270.7L1290.6 270.2L1291.0 271.4L1291.4 269.4L1291.8 268.0L1292.2 268.3L1292.6 269.0L1293.0 267.3L1293.4 267.5L1293.8 266.4L1294.2 265.4L1294.6 265.7L1295.0 264.9L1295.4 265.2L1295.8 265.1L1296.2 264.1L1296.6 265.3L1297.0 262.5L1297.4 263.6L1297.8 262.5L1298.2 262.7L1298.6 261.7L1299.0 259.5L1299.4 260.3L1299.8 260.7L1300.2 259.6L1300.6 258.4L1301.0 258.5L1301.4 258.6L1301.8 258.7L1302.2 257.3L1302.6 257.3L1303.0 256.3L1303.4 255.8L1303.8 255.8L1304.2 256.6L1304.6 255.9L1305.0 255.0L1305.4 254.8L1305.8 254.8L1306.2 254.2L1306.6 253.7L1307.0 253.5L1307.4 253.8L1307.8 253.0L1308.2 253.4L1308.6 251.7L1309.0 252.1L1309.4 252.0L1309.8 252.4L1310.2 251.4L1310.6 251.4L1311.0 251.7L1311.4 251.3L1311.8 250.8L1312.2 250.8L1312.6 250.4L1313.0 251.1L1313.4 250.8L1313.8 250.9L1314.2 251.5L1314.6 250.9L1315.0 250.4L1315.4 250.0L1315.8 251.1L1316.2 250.0L1316.6 249.7L1317.0 250.4L1317.4 249.9L1317.8 249.6L1318.2 249.9L1318.6 250.6L1319.0 249.7L1319.4 249.9L1319.8 249.3L1320.2 249.5L1320.6 250.2L1321.0 249.8L1321.4 249.9L1321.8 250.5L1322.2 249.9L1322.6 250.8L1323.0 250.0L1323.4 250.0L1323.8 250.1L1324.2 249.9L1324.6 251.0L1325.0 250.9L1325.4 251.7L1325.8 250.9L1326.2 251.7L1326.6 252.2L1327.0 251.7L1327.4 251.9L1327.8 251.0L1328.2 253.2L1328.6 252.5L1329.0 253.1L1329.4 252.8L1329.8 253.4L1330.2 253.0L1330.6 254.1L1331.0 254.0L1331.4 254.1L1331.8 254.7L1332.2 253.9L1332.6 255.1L1333.0 255.1L1333.4 256.2L1333.8 256.2L1334.2 256.0L1334.6 256.3L1335.0 258.0L1335.4 256.5L1335.8 258.1L1336.2 258.0L1336.6 258.2L1337.0 257.3L1337.4 258.9L1337.8 258.6L1338.2 258.7L1338.6 259.7L1339.0 259.4L1339.4 260.3L1339.8 260.0L1340.2 261.0L1340.6 261.2L1341.0 261.0L1341.4 261.3L1341.8 261.8L1342.2 262.2L1342.6 262.5L1343.0 264.0L1343.4 263.7L1343.8 263.8L1344.2 264.1L1344.6 264.3L1345.0 265.2L1345.4 265.4L1345.8 265.5L1346.2 265.9L1346.6 266.4L1347.0 266.5L1347.4 267.4L1347.8 267.3L1348.2 268.3L1348.6 268.3L1349.0 269.1L1349.4 269.0L1349.8 268.8L1350.2 269.4L1350.6 270.2L1351.0 270.9L1351.4 271.2L1351.8 271.7L1352.2 272.1L1352.6 272.3L1353.0 272.7L1353.4 272.8L1353.8 273.5L1354.2 273.5L1354.6 273.9L1355.0 274.4L1355.4 275.7L1355.8 274.3L1356.2 275.1L1356.6 275.6L1357.0 276.3L1357.4 276.4L1357.8 277.5L1358.2 276.4L1358.6 278.3L1359.0 277.3L1359.4 277.8L1359.8 278.8L1360.2 278.9L1360.6 279.2L1361.0 279.6L1361.4 280.0L1361.8 280.6L1362.2 280.7L1362.6 280.3L1363.0 280.8L1363.4 282.1L1363.8 282.7L1364.2 282.6L1364.6 283.0L1365.0 283.0L1365.4 284.1L1365.8 283.2L1366.2 283.6L1366.6 283.8L1367.0 285.1L1367.4 284.5L1367.8 285.3L1368.2 284.8L1368.6 285.0L1369.0 286.4L1369.4 286.6L1369.8 287.0L1370.2 287.0L1370.6 287.0L1371.0 287.3L1371.4 287.2L1371.8 287.8L1372.2 288.9L1372.6 288.5L1373.0 288.2L1373.4 288.9L1373.8 288.8L1374.2 289.0L1374.6 289.7L1375.0 289.6L1375.4 289.6L1375.8 291.0L1376.2 291.3L1376.6 290.8L1377.0 291.6L1377.4 291.0L1377.8 291.3L1378.2 292.1L1378.6 291.9L1379.0 292.3L1379.4 290.8L1379.8 292.4L1380.2 292.2L1380.6 292.5L1381.0 292.0L1381.4 292.5L1381.8 293.3L1382.2 293.4L1382.6 293.7L1383.0 293.8L1383.4 294.1L1383.8 293.9L1384.2 293.7L1384.6 293.7L1385.0 293.9L1385.4 293.8L1385.8 293.9L1386.2 294.4L1386.6 293.5L1387.0 294.1L1387.4 294.4L1387.8 295.1L1388.2 295.5L1388.6 295.3L1389.0 295.2L1389.4 295.1L1389.8 295.9L1390.2 295.8L1390.6 295.3L1391.0 295.7L1391.4 295.9L1391.8 296.3L1392.2 295.8L1392.6 296.7L1393.0 296.6L1393.4 296.0L1393.8 296.1L1394.2 295.9L1394.6 295.9L1395.0 296.6L1395.4 297.1L1395.8 297.2L1396.2 296.7L1396.6 296.5L1397.0 296.4L1397.4 296.9L1397.8 296.5L1398.2 297.1L1398.6 296.8L1399.0 297.0L1399.4 296.6L1399.8 297.8L1400.2 297.4L1400.6 297.0L1401.0 296.5L1401.4 297.2L1401.8 297.3L1402.2 296.4L1402.6 297.0L1403.0 297.8L1403.4 297.0L1403.8 296.7L1404.2 297.1L1404.6 297.7L1405.0 296.6L1405.4 296.6L1405.8 296.7L1406.2 296.8L1406.6 297.3L1407.0 296.8L1407.4 295.7L1407.8 296.8L1408.2 296.8L1408.6 296.8L1409.0 296.6L1409.4 296.4L1409.8 296.6L1410.2 296.1L1410.6 295.6L1411.0 296.1L1411.4 295.7L1411.8 296.9L1412.2 296.1L1412.6 296.8L1413.0 295.4L1413.4 295.4L1413.8 296.1L1414.2 295.1L1414.6 295.5L1415.0 294.8L1415.4 295.8L1415.8 294.8L1416.2 295.4L1416.6 294.6L1417.0 295.6L1417.4 295.7L1417.8 295.2L1418.2 294.7L1418.6 295.2L1419.0 295.4L1419.4 295.2L1419.8 295.4L1420.2 295.6L1420.6 294.7L1421.0 294.4L1421.4 294.2L1421.8 294.4L1422.2 294.2L1422.6 293.9L1423.0 294.2L1423.4 294.9L1423.8 293.5L1424.2 293.6L1424.6 293.6L1425.0 293.2L1425.4 294.0L1425.8 293.4L1426.2 293.6L1426.6 292.5L1427.0 293.4L1427.4 293.0L1427.8 292.3L1428.2 293.3L1428.6 293.2L1429.0 292.8L1429.4 292.8L1429.8 292.0L1430.2 292.8L1430.6 292.1L1431.0 292.4L1431.4 292.3L1431.8 292.1L1432.2 291.5L1432.6 291.8L1433.0 291.7L1433.4 292.0L1433.8 291.0L1434.2 291.7L1434.6 291.4L1435.0 291.1L1435.4 291.8L1435.8 291.2L1436.2 290.5L1436.6 290.7L1437.0 290.2L1437.4 289.9L1437.8 290.1L1438.2 290.0L1438.6 290.8L1439.0 290.3L1439.4 288.8L1439.8 289.7L1440.2 289.3L1440.6 289.5L1441.0 289.5L1441.4 289.4L1441.8 289.4L1442.2 288.8L1442.6 289.7L1443.0 288.9L1443.4 289.4L1443.8 288.7L1444.2 288.8L1444.6 288.0L1445.0 288.9L1445.4 288.4L1445.8 288.0L1446.2 288.2L1446.6 288.1L1447.0 287.1L1447.4 287.3L1447.8 287.1L1448.2 287.9L1448.6 287.5L1449.0 287.0L1449.4 286.8L1449.8 287.1L1450.2 285.9L1450.6 286.8L1451.0 287.5L1451.4 286.1L1451.8 286.1L1452.2 286.0L1452.6 286.7L1453.0 286.1L1453.4 287.3L1453.8 286.2L1454.2 286.0L1454.6 285.7L1455.0 286.5L1455.4 286.7L1455.8 286.2L1456.2 286.8L1456.6 286.7L1457.0 286.3L1457.4 286.1L1457.8 285.9L1458.2 286.3L1458.6 286.1L1459.0 287.1L1459.4 286.8L1459.8 286.5L1460.2 286.5L1460.6 287.1L1461.0 287.6L1461.4 287.4L1461.8 288.1L1462.2 287.6L1462.6 288.3L1463.0 288.8L1463.4 289.0L1463.8 289.5L1464.2 290.2L1464.6 290.1L1465.0 291.1L1465.4 290.8L1465.8 291.9L1466.2 291.9L1466.6 292.5L1467.0 293.6L1467.4 294.5L1467.8 294.3L1468.2 295.0L1468.6 296.3L1469.0 295.8L1469.4 297.3L1469.8 296.9L1470.2 297.1L1470.6 299.0L1471.0 299.4L1471.4 300.0L1471.8 299.7L1472.2 302.0L1472.6 302.3L1473.0 302.7L1473.4 304.0L1473.8 304.2L1474.2 305.1L1474.6 305.9L1475.0 307.6L1475.4 307.7L1475.8 309.2L1476.2 308.8L1476.6 309.2L1477.0 311.5L1477.4 310.4L1477.8 312.5L1478.2 311.8L1478.6 313.4L1479.0 313.2L1479.4 315.1L1479.8 315.9L1480.2 316.0L1480.6 316.2L1481.0 316.3L1481.4 317.5L1481.8 318.8L1482.2 317.9L1482.6 318.1L1483.0 320.3L1483.4 319.6L1483.8 320.7L1484.2 320.9L1484.6 321.4L1485.0 321.6L1485.4 322.2L1485.8 321.8L1486.2 322.9L1486.6 323.2L1487.0 324.9L1487.4 324.5L1487.8 325.2L1488.2 324.6L1488.6 326.1L1489.0 327.4L1489.4 327.0L1489.8 327.9L1490.2 327.7L1490.6 327.9L1491.0 329.3L1491.4 328.9L1491.8 328.9L1492.2 329.9L1492.6 330.2L1493.0 331.5L1493.4 331.7L1493.8 330.8L1494.2 332.3L1494.6 331.6L1495.0 332.9L1495.4 333.5L1495.8 333.2L1496.2 333.5L1496.6 334.7L1497.0 334.4L1497.4 334.2L1497.8 336.2L1498.2 336.1L1498.6 336.1L1499.0 336.4L1499.4 337.1L1499.8 336.8L1500.2 337.6L1500.6 337.6L1501.0 337.2L1501.4 338.6L1501.8 338.3L1502.2 338.0L1502.6 338.5L1503.0 337.5L1503.4 338.2L1503.8 338.6L1504.2 340.3L1504.6 340.5L1505.0 341.0L1505.4 340.8L1505.8 341.9L1506.2 340.8L1506.6 340.8L1507.0 340.9L1507.4 341.9L1507.8 341.6L1508.2 341.6L1508.6 342.1L1509.0 342.8L1509.4 342.1L1509.8 343.1L1510.2 343.4L1510.6 344.7L1511.0 343.9L1511.4 343.2L1511.8 344.4L1512.2 344.6L1512.6 343.9L1513.0 342.9L1513.4 345.6L1513.8 345.2L1514.2 345.1L1514.6 345.7L1515.0 346.8L1515.4 347.3L1515.8 346.1L1516.2 347.6L1516.6 346.7L1517.0 347.0L1517.4 347.1L1517.8 347.3L1518.2 347.4L1518.6 347.3L1519.0 347.9L1519.4 347.4L1519.8 348.7L1520.2 348.0L1520.6 349.0L1521.0 348.7L1521.4 347.7L1521.8 350.0L1522.2 349.5L1522.6 349.4L1523.0 349.4L1523.4 351.1L1523.8 349.8L1524.2 350.8L1524.6 350.4L1525.0 349.5L1525.4 351.1L1525.8 349.7L1526.2 351.2L1526.6 351.4L1527.0 351.4L1527.4 350.9L1527.8 352.5L1528.2 352.9L1528.6 351.2L1529.0 351.7L1529.4 353.3L1529.8 351.9L1530.2 353.1L1530.6 351.8L1531.0 352.2L1531.4 353.0L1531.8 353.2L1532.2 352.0L1532.6 352.4L1533.0 353.6L1533.4 354.3L1533.8 353.9L1534.2 353.9L1534.6 354.1L1535.0 353.0L1535.4 354.3L1535.8 354.7L1536.2 354.6L1536.6 353.4L1537.0 353.7L1537.4 355.3L1537.8 353.6L1538.2 353.9L1538.6 356.0L1539.0 354.2L1539.4 354.4L1539.8 355.5L1540.2 355.7L1540.6 355.1L1541.0 354.3L1541.4 355.0L1541.8 355.6L1542.2 354.9L1542.6 354.9L1543.0 356.7L1543.4 356.2L1543.8 356.5L1544.2 356.7L1544.6 355.3L1545.0 356.5L1545.4 357.1L1545.8 356.8L1546.2 355.4L1546.6 355.2L1547.0 355.8L1547.4 356.9L1547.8 356.4L1548.2 356.8L1548.6 355.7L1549.0 357.3L1549.4 356.2L1549.8 357.7L1550.2 356.8L1550.6 354.5L1551.0 356.7L1551.4 356.2L1551.8 356.3L1552.2 356.8L1552.6 357.8L1553.0 357.7L1553.4 358.1L1553.8 357.0L1554.2 355.5L1554.6 356.6L1555.0 356.3L1555.4 356.5L1555.8 359.1L1556.2 357.6L1556.6 356.2L1557.0 357.9L1557.4 356.7L1557.8 355.8L1558.2 357.8L1558.6 356.5L1559.0 356.9L1559.4 358.6L1559.8 355.9L1560.2 357.5L1560.6 356.4L1561.0 355.7L1561.4 356.3L1561.8 356.6L1562.2 356.6L1562.6 355.1L1563.0 357.0L1563.4 355.6L1563.8 356.5L1564.2 356.3L1564.6 355.6L1565.0 356.5L1565.4 355.3L1565.8 355.1L1566.2 354.6L1566.6 354.2L1567.0 355.1L1567.4 353.7L1567.8 355.2L1568.2 354.9L1568.6 356.7L1569.0 354.3L1569.4 356.1L1569.8 355.4L1570.2 355.2L1570.6 354.4L1571.0 354.1L1571.4 354.5L1571.8 354.6L1572.2 355.0L1572.6 354.0L1573.0 355.7L1573.4 355.7L1573.8 352.1L1574.2 354.2L1574.6 353.8L1575.0 353.0L1575.4 351.4L1575.8 352.1L1576.2 353.3L1576.6 353.9L1577.0 353.6L1577.4 353.5L1577.8 352.7L1578.2 353.6L1578.6 353.0L1579.0 353.4L1579.4 352.1L1579.8 351.5L1580.2 350.6L1580.6 353.0L1581.0 351.0L1581.4 350.4L1581.8 349.2L1582.2 351.3L1582.6 349.4L1583.0 350.4L1583.4 350.4L1583.8 351.1L1584.2 348.9L1584.6 347.6L1585.0 349.8L1585.4 348.9L1585.8 347.8L1586.2 348.1L1586.6 349.4L1587.0 347.5L1587.4 346.5L1587.8 346.7L1588.2 346.9L1588.6 346.4L1589.0 346.0L1589.4 345.6L1589.8 343.9L1590.2 345.1L1590.6 345.1L1591.0 344.4L1591.4 343.4L1591.8 342.9L1592.2 342.8L1592.6 342.3L1593.0 340.3L1593.4 341.2L1593.8 342.0L1594.2 340.2L1594.6 339.5L1595.0 340.1L1595.4 339.1L1595.8 337.9L1596.2 338.2L1596.6 339.0L1597.0 338.6L1597.4 336.5L1597.8 335.7L1598.2 336.4L1598.6 335.1L1599.0 334.6L1599.4 333.4L1599.8 331.7L1600.2 330.9L1600.6 331.5L1601.0 330.0L1601.4 331.0L1601.8 330.4L1602.2 330.1L1602.6 328.1L1603.0 329.0L1603.4 327.5L1603.8 325.9L1604.2 325.4L1604.6 323.3L1605.0 320.1L1605.4 323.1L1605.8 321.7L1606.2 322.0L1606.6 320.1L1607.0 318.7L1607.4 317.6L1607.8 316.8L1608.2 316.8L1608.6 314.3L1609.0 314.3L1609.4 315.5L1609.8 312.3L1610.2 312.2L1610.6 312.5L1611.0 312.1L1611.4 312.0L1611.8 312.1L1612.2 311.1L1612.6 310.8" stroke="#edb120"/>
</g>
<text x="617.7" y="441.8" font-size="33.0" fill="#454142" text-anchor="middle" font-weight="normal" >550</text>
<text x="729.5" y="441.8" font-size="33.0" fill="#454142" text-anchor="middle" font-weight="normal" >600</text>
<text x="841.3" y="441.8" font-size="33.0" fill="#454142" text-anchor="middle" font-weight="normal" >650</text>
<text x="953.1" y="441.8" font-size="33.0" fill="#454142" text-anchor="middle" font-weight="normal" >700</text>
<text x="1064.9" y="441.8" font-size="33.0" fill="#454142" text-anchor="middle" font-weight="normal" >750</text>
<text transform="translate(836.9 482.2) scale(1.0135 1)" font-size="36.5" fill="#454142" text-anchor="middle">Wavelength (nm)</text>
<text x="1167.7" y="440.8" font-size="33.0" fill="#454142" text-anchor="middle" font-weight="normal" >550</text>
<text x="1279.5" y="440.8" font-size="33.0" fill="#454142" text-anchor="middle" font-weight="normal" >600</text>
<text x="1391.3" y="440.8" font-size="33.0" fill="#454142" text-anchor="middle" font-weight="normal" >650</text>
<text x="1503.1" y="440.8" font-size="33.0" fill="#454142" text-anchor="middle" font-weight="normal" >700</text>
<text x="1614.9" y="440.8" font-size="33.0" fill="#454142" text-anchor="middle" font-weight="normal" >750</text>
<text transform="translate(1386.7 481.2) scale(1.0135 1)" font-size="36.5" fill="#454142" text-anchor="middle">Wavelength (nm)</text>
<text x="583.9" y="414.5" font-size="33.0" fill="#454142" text-anchor="middle" font-weight="normal" >0</text>
<text x="586.4" y="344.5" font-size="33.0" fill="#454142" text-anchor="middle" font-weight="normal" >0.2</text>
<text x="586.4" y="274.6" font-size="33.0" fill="#454142" text-anchor="middle" font-weight="normal" >0.4</text>
<text x="586.4" y="204.6" font-size="33.0" fill="#454142" text-anchor="middle" font-weight="normal" >0.6</text>
<text x="586.4" y="134.7" font-size="33.0" fill="#454142" text-anchor="middle" font-weight="normal" >0.8</text>
<text x="586.6" y="64.7" font-size="33.0" fill="#454142" text-anchor="middle" font-weight="normal" >1</text>
<text x="1131.1" y="414.5" font-size="33.0" fill="#454142" text-anchor="middle" font-weight="normal" >0</text>
<text x="1133.6" y="344.5" font-size="33.0" fill="#454142" text-anchor="middle" font-weight="normal" >0.2</text>
<text x="1133.6" y="274.6" font-size="33.0" fill="#454142" text-anchor="middle" font-weight="normal" >0.4</text>
<text x="1133.6" y="204.6" font-size="33.0" fill="#454142" text-anchor="middle" font-weight="normal" >0.6</text>
<text x="1133.6" y="134.7" font-size="33.0" fill="#454142" text-anchor="middle" font-weight="normal" >0.8</text>
<text x="1133.8" y="64.7" font-size="33.0" fill="#454142" text-anchor="middle" font-weight="normal" >1</text>
<text transform="translate(555.6 298.6) rotate(-90)" font-size="36.5" fill="#454142">Absorption</text>
<text transform="translate(1103.0 298.3) rotate(-90)" font-size="36.5" fill="#454142">Absorption</text>
<text transform="translate(864.6 96.6) scale(0.962 1)" font-size="34.6" fill="#0f70bd">0°</text>
<text transform="translate(751.8 169.6) scale(0.962 1)" font-size="34.6" fill="#d9541e">10°</text>
<text transform="translate(665.6 232.5) scale(0.962 1)" font-size="34.6" fill="#ee7f22">30°</text>
<text transform="translate(1437.6 169.8) scale(0.962 1)" font-size="34.6" fill="#0f70bd">0°</text>
<text transform="translate(1333.6 231.9) scale(0.962 1)" font-size="34.6" fill="#d9541e">10°</text>
<text transform="translate(1245.7 278.9) scale(0.962 1)" font-size="34.6" fill="#ee7f22">30°</text>
</svg>
</body></html>
